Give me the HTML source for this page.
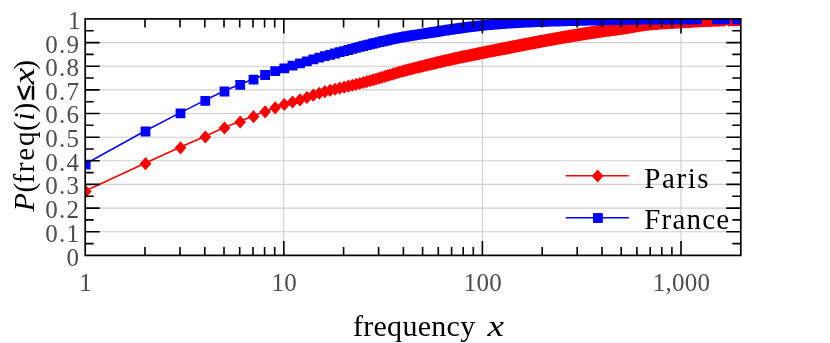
<!DOCTYPE html>
<html><head><meta charset="utf-8"><title>CDF of frequency</title>
<style>html,body{margin:0;padding:0;background:#fff;}body{width:830px;height:343px;overflow:hidden;position:relative;font-family:"Liberation Serif",serif;}</style>
</head><body>
<svg width="830" height="343" viewBox="0 0 830 343" style="position:absolute;left:0;top:0;will-change:transform;font-family:'Liberation Serif',serif">
<rect width="830" height="343" fill="#fff"/>
<defs><clipPath id="c"><rect x="85.2" y="18.9" width="655.6" height="236.5"/></clipPath></defs>
<path d="M283.8,18.9V255.4M482.4,18.9V255.4M681.0,18.9V255.4M85.2,231.8H740.8M85.2,208.1H740.8M85.2,184.4H740.8M85.2,160.8H740.8M85.2,137.2H740.8M85.2,113.5H740.8M85.2,89.9H740.8M85.2,66.2H740.8M85.2,42.6H740.8" stroke="#cfcfcf" stroke-width="1.1" fill="none"/>
<g clip-path="url(#c)"><g>
<path d="M85.2,191.1 L145.0,163.2 L180.0,147.3 L204.8,136.4 L224.0,127.6 L239.7,121.5 L253.0,116.1 L264.6,111.4 L274.7,107.4 L283.8,104.0 L292.0,101.6 L299.5,99.3 L306.4,96.9 L312.8,94.7 L318.8,92.8 L324.3,91.2 L329.6,89.8 L334.5,88.7 L339.2,87.7 L343.6,86.7 L347.8,85.7 L351.8,84.7 L355.6,83.8 L359.3,82.9 L362.8,82.0 L366.2,81.1 L369.5,80.2 L372.6,79.3 L375.6,78.5 L378.6,77.6 L381.4,76.8 L384.1,76.0 L386.8,75.2 L389.4,74.4 L391.9,73.7 L394.3,72.9 L396.6,72.2 L398.9,71.6 L401.2,70.9 L403.4,70.3 L405.5,69.8 L407.6,69.2 L409.6,68.7 L411.6,68.2 L413.5,67.7 L415.4,67.3 L417.3,66.8 L419.1,66.4 L420.9,65.9 L422.6,65.5 L424.3,65.1 L426.0,64.7 L427.6,64.3 L429.3,63.9 L430.8,63.5 L432.4,63.1 L433.9,62.7 L435.4,62.4 L436.9,62.0 L438.3,61.7 L439.8,61.4 L441.2,61.0 L442.5,60.7 L443.9,60.4 L445.2,60.1 L446.6,59.8 L447.9,59.5 L449.1,59.2 L450.4,58.9 L451.6,58.6 L452.9,58.4 L454.1,58.1 L455.3,57.8 L456.4,57.6 L457.6,57.3 L458.7,57.1 L459.9,56.9 L461.0,56.6 L462.1,56.4 L463.2,56.2 L464.2,55.9 L465.3,55.7 L466.3,55.5 L467.4,55.3 L468.4,55.1 L469.4,54.9 L470.4,54.7 L471.4,54.5 L472.3,54.3 L473.3,54.1 L474.3,53.9 L475.2,53.7 L476.1,53.5 L477.1,53.3 L478.0,53.1 L478.9,53.0 L479.8,52.8 L480.7,52.6 L481.5,52.4 L482.4,52.2 L483.3,52.1 L484.1,51.9 L484.9,51.7 L485.8,51.6 L486.6,51.4 L487.4,51.2 L488.2,51.1 L489.0,50.9 L489.8,50.8 L490.6,50.6 L491.4,50.4 L492.2,50.3 L492.9,50.1 L493.7,50.0 L494.5,49.8 L495.2,49.7 L495.9,49.5 L496.7,49.4 L497.4,49.3 L498.1,49.1 L498.8,49.0 L499.6,48.8 L500.3,48.7 L501.0,48.6 L501.6,48.4 L502.3,48.3 L503.0,48.2 L503.7,48.0 L504.4,47.9 L505.0,47.8 L505.7,47.6 L506.3,47.5 L507.0,47.4 L507.6,47.2 L508.3,47.1 L508.9,47.0 L509.6,46.9 L510.2,46.8 L510.8,46.6 L511.4,46.5 L512.0,46.4 L512.6,46.3 L513.2,46.2 L513.9,46.0 L514.4,45.9 L515.0,45.8 L515.6,45.7 L516.2,45.6 L516.8,45.5 L517.4,45.3 L517.9,45.2 L518.5,45.1 L519.1,45.0 L519.6,44.9 L520.2,44.8 L520.8,44.7 L521.3,44.6 L521.9,44.5 L522.4,44.4 L522.9,44.3 L523.5,44.2 L524.0,44.1 L524.5,43.9 L525.1,43.8 L525.6,43.7 L526.1,43.6 L526.6,43.5 L527.1,43.4 L527.7,43.3 L528.2,43.2 L528.7,43.1 L529.2,43.0 L529.7,42.9 L530.2,42.8 L530.7,42.7 L531.2,42.6 L531.6,42.6 L532.1,42.5 L532.6,42.4 L533.1,42.3 L533.6,42.2 L534.1,42.1 L534.5,42.0 L535.0,41.9 L535.5,41.8 L535.9,41.7 L536.4,41.6 L536.8,41.5 L537.3,41.5 L537.8,41.4 L538.2,41.3 L538.7,41.2 L539.1,41.1 L539.6,41.0 L540.0,40.9 L540.4,40.9 L540.9,40.8 L541.3,40.7 L541.8,40.6 L542.6,40.5 L543.5,40.3 L544.3,40.1 L545.2,40.0 L546.0,39.8 L546.8,39.7 L547.6,39.5 L548.4,39.4 L549.2,39.2 L550.0,39.1 L550.8,39.0 L551.6,38.8 L552.3,38.7 L553.1,38.5 L553.9,38.4 L554.6,38.3 L555.4,38.1 L556.1,38.0 L556.8,37.9 L557.5,37.8 L558.3,37.6 L559.0,37.5 L559.7,37.4 L560.4,37.3 L561.1,37.1 L561.8,37.0 L562.5,36.9 L563.1,36.8 L563.8,36.7 L564.5,36.5 L565.1,36.4 L565.8,36.3 L566.5,36.2 L567.1,36.1 L567.7,36.0 L568.4,35.9 L569.0,35.8 L569.7,35.7 L570.3,35.5 L570.9,35.4 L571.5,35.3 L572.1,35.2 L572.7,35.1 L573.3,35.0 L573.9,34.9 L574.5,34.8 L575.1,34.7 L575.7,34.6 L576.3,34.5 L576.9,34.4 L577.4,34.3 L578.0,34.2 L578.6,34.2 L579.1,34.1 L579.7,34.0 L580.3,33.9 L580.8,33.8 L581.4,33.7 L581.9,33.6 L582.5,33.5 L583.0,33.4 L583.5,33.3 L584.1,33.3 L584.6,33.2 L585.1,33.1 L585.6,33.0 L586.2,32.9 L586.7,32.8 L587.2,32.8 L587.7,32.7 L588.2,32.6 L588.7,32.5 L589.2,32.4 L589.7,32.4 L590.2,32.3 L590.7,32.2 L591.2,32.1 L591.7,32.0 L592.2,32.0 L592.6,31.9 L593.1,31.8 L593.6,31.7 L594.1,31.7 L594.5,31.6 L595.0,31.5 L595.5,31.5 L595.9,31.4 L596.4,31.3 L596.9,31.2 L597.3,31.2 L597.8,31.1 L598.2,31.0 L598.9,30.9 L599.6,30.8 L600.2,30.7 L600.9,30.6 L601.5,30.6 L602.2,30.5 L602.8,30.4 L603.5,30.3 L604.1,30.2 L604.7,30.1 L605.4,30.0 L606.0,29.9 L606.6,29.8 L607.2,29.8 L607.8,29.7 L608.4,29.6 L609.0,29.5 L609.6,29.4 L610.2,29.4 L610.8,29.3 L611.4,29.2 L611.9,29.1 L612.5,29.1 L613.1,29.0 L613.6,28.9 L614.2,28.8 L614.8,28.8 L615.3,28.7 L615.9,28.6 L616.4,28.5 L617.0,28.5 L617.5,28.4 L618.1,28.3 L618.6,28.3 L619.1,28.2 L619.6,28.1 L620.2,28.0 L620.7,28.0 L621.2,27.9 L621.7,27.8 L622.2,27.7 L622.8,27.7 L623.3,27.6 L623.8,27.5 L624.3,27.4 L624.8,27.3 L625.3,27.3 L625.8,27.2 L626.2,27.1 L626.7,27.0 L627.2,26.9 L627.7,26.9 L628.2,26.8 L628.6,26.7 L629.1,26.6 L629.6,26.5 L630.1,26.4 L630.5,26.4 L631.0,26.3 L631.5,26.2 L631.9,26.1 L632.4,26.0 L632.8,26.0 L633.3,25.9 L633.9,25.8 L634.5,25.7 L635.1,25.6 L635.6,25.5 L636.2,25.4 L636.8,25.3 L637.4,25.2 L637.9,25.1 L638.5,25.0 L639.1,24.9 L639.6,24.8 L640.2,24.7 L640.7,24.6 L641.3,24.5 L641.8,24.4 L642.4,24.4 L642.9,24.3 L643.4,24.2 L644.0,24.1 L644.5,24.1 L645.0,24.0 L645.6,23.9 L646.1,23.9 L646.6,23.8 L647.1,23.7 L647.6,23.7 L648.1,23.6 L648.6,23.6 L649.1,23.5 L649.6,23.5 L650.1,23.4 L650.6,23.4 L651.1,23.3 L651.6,23.3 L652.1,23.2 L652.5,23.2 L653.0,23.1 L653.5,23.1 L654.0,23.1 L654.4,23.0 L654.9,23.0 L655.4,23.0 L655.8,22.9 L656.3,22.9 L656.8,22.9 L657.2,22.8 L657.7,22.8 L658.1,22.8 L658.7,22.7 L659.2,22.7 L659.8,22.6 L660.3,22.6 L660.9,22.6 L661.4,22.5 L662.0,22.5 L662.5,22.5 L663.0,22.4 L663.6,22.4 L664.1,22.4 L664.6,22.3 L665.1,22.3 L665.7,22.3 L666.2,22.2 L666.7,22.2 L667.2,22.2 L667.7,22.1 L668.2,22.1 L668.7,22.1 L669.2,22.1 L669.7,22.0 L670.2,22.0 L670.7,22.0 L671.1,21.9 L671.6,21.9 L672.1,21.9 L672.6,21.9 L673.1,21.8 L673.5,21.8 L674.0,21.8 L674.5,21.8 L674.9,21.7 L675.4,21.7 L675.8,21.7 L676.3,21.7 L676.8,21.6 L677.2,21.6 L677.7,21.6 L678.3,21.5 L678.8,21.5 L679.3,21.5 L679.9,21.4 L680.4,21.4 L680.9,21.4 L681.4,21.4 L681.9,21.3 L682.5,21.3 L683.0,21.3 L683.5,21.2 L684.0,21.2 L684.5,21.2 L685.0,21.1 L685.5,21.1 L685.9,21.1 L686.4,21.1 L686.9,21.0 L687.4,21.0 L687.9,21.0 L688.4,20.9 L688.8,20.9 L689.3,20.9 L689.8,20.9 L690.2,20.8 L690.7,20.8 L691.2,20.8 L691.6,20.7 L692.1,20.7 L692.5,20.7 L693.0,20.7 L693.5,20.6 L694.0,20.6 L694.5,20.6 L695.1,20.5 L695.6,20.5 L696.1,20.5 L696.6,20.5 L697.1,20.4 L697.6,20.4 L698.1,20.4 L698.6,20.4 L699.1,20.3 L699.6,20.3 L700.0,20.3 L700.5,20.3 L701.0,20.2 L701.5,20.2 L702.0,20.2 L702.4,20.2 L702.9,20.1 L703.4,20.1 L703.8,20.1 L704.3,20.1 L704.7,20.1 L705.2,20.1 L705.7,20.0 L706.1,20.0 L706.6,20.0 L707.1,20.0 L707.6,20.0 L708.1,19.9 L708.6,19.9 L709.1,19.9 L709.6,19.9 L710.1,19.9 L710.6,19.9 L711.1,19.8 L711.5,19.8 L712.0,19.8 L712.5,19.8 L713.0,19.8 L713.5,19.8 L713.9,19.7 L714.4,19.7 L714.9,19.7 L715.3,19.7 L715.8,19.7 L716.3,19.7 L716.7,19.7 L717.2,19.6 L717.6,19.6 L718.1,19.6 L718.6,19.6 L719.1,19.6 L719.6,19.6 L720.1,19.6 L720.6,19.5 L721.1,19.5 L721.5,19.5 L722.0,19.5 L722.5,19.5 L723.0,19.5 L723.5,19.5 L723.9,19.5 L724.4,19.4 L727.8,19.4 L728.2,19.3 L728.7,19.3 L729.2,19.3 L729.7,19.3 L730.2,19.3 L730.7,19.3 L731.2,19.3 L731.6,19.3 L732.1,19.3 L732.6,19.3 L733.1,19.2 L733.5,19.2 L734.0,19.2 L734.5,19.2 L734.9,19.2 L735.4,19.2 L735.9,19.2 L736.3,19.2 L736.8,19.2 L737.2,19.2 L737.7,19.2 L738.2,19.2 L738.7,19.2 L739.2,19.2 L739.7,19.1 L740.1,19.1 L740.6,19.1" fill="none" stroke="#ff0000" stroke-width="1.6" stroke-linejoin="round"/>
<path d="M85.7,185.0l5.85,6.55l-5.85,6.55l-5.85,-6.55zM145.5,157.1l5.85,6.55l-5.85,6.55l-5.85,-6.55zM180.5,141.3l5.85,6.55l-5.85,6.55l-5.85,-6.55zM205.3,130.4l5.85,6.55l-5.85,6.55l-5.85,-6.55zM224.5,121.5l5.85,6.55l-5.85,6.55l-5.85,-6.55zM240.2,115.5l5.85,6.55l-5.85,6.55l-5.85,-6.55zM253.5,110.1l5.85,6.55l-5.85,6.55l-5.85,-6.55zM265.1,105.3l5.85,6.55l-5.85,6.55l-5.85,-6.55zM275.2,101.3l5.85,6.55l-5.85,6.55l-5.85,-6.55zM284.3,98.0l5.85,6.55l-5.85,6.55l-5.85,-6.55zM292.5,95.5l5.85,6.55l-5.85,6.55l-5.85,-6.55zM300.0,93.3l5.85,6.55l-5.85,6.55l-5.85,-6.55zM306.9,90.9l5.85,6.55l-5.85,6.55l-5.85,-6.55zM313.3,88.6l5.85,6.55l-5.85,6.55l-5.85,-6.55zM319.3,86.7l5.85,6.55l-5.85,6.55l-5.85,-6.55zM324.8,85.1l5.85,6.55l-5.85,6.55l-5.85,-6.55zM330.1,83.8l5.85,6.55l-5.85,6.55l-5.85,-6.55zM335.0,82.7l5.85,6.55l-5.85,6.55l-5.85,-6.55zM339.7,81.6l5.85,6.55l-5.85,6.55l-5.85,-6.55zM344.1,80.6l5.85,6.55l-5.85,6.55l-5.85,-6.55zM348.3,79.6l5.85,6.55l-5.85,6.55l-5.85,-6.55zM352.3,78.7l5.85,6.55l-5.85,6.55l-5.85,-6.55zM356.1,77.8l5.85,6.55l-5.85,6.55l-5.85,-6.55zM359.8,76.9l5.85,6.55l-5.85,6.55l-5.85,-6.55zM363.3,76.0l5.85,6.55l-5.85,6.55l-5.85,-6.55zM366.7,75.1l5.85,6.55l-5.85,6.55l-5.85,-6.55zM370.0,74.2l5.85,6.55l-5.85,6.55l-5.85,-6.55zM373.1,73.3l5.85,6.55l-5.85,6.55l-5.85,-6.55zM376.1,72.4l5.85,6.55l-5.85,6.55l-5.85,-6.55zM379.1,71.6l5.85,6.55l-5.85,6.55l-5.85,-6.55zM381.9,70.8l5.85,6.55l-5.85,6.55l-5.85,-6.55zM384.6,69.9l5.85,6.55l-5.85,6.55l-5.85,-6.55zM387.3,69.1l5.85,6.55l-5.85,6.55l-5.85,-6.55zM389.9,68.4l5.85,6.55l-5.85,6.55l-5.85,-6.55zM392.4,67.6l5.85,6.55l-5.85,6.55l-5.85,-6.55zM394.8,66.9l5.85,6.55l-5.85,6.55l-5.85,-6.55zM397.1,66.2l5.85,6.55l-5.85,6.55l-5.85,-6.55zM399.4,65.5l5.85,6.55l-5.85,6.55l-5.85,-6.55zM401.7,64.9l5.85,6.55l-5.85,6.55l-5.85,-6.55zM403.9,64.3l5.85,6.55l-5.85,6.55l-5.85,-6.55zM406.0,63.7l5.85,6.55l-5.85,6.55l-5.85,-6.55zM408.1,63.2l5.85,6.55l-5.85,6.55l-5.85,-6.55zM410.1,62.7l5.85,6.55l-5.85,6.55l-5.85,-6.55zM412.1,62.2l5.85,6.55l-5.85,6.55l-5.85,-6.55zM414.0,61.7l5.85,6.55l-5.85,6.55l-5.85,-6.55zM415.9,61.2l5.85,6.55l-5.85,6.55l-5.85,-6.55zM417.8,60.7l5.85,6.55l-5.85,6.55l-5.85,-6.55zM419.6,60.3l5.85,6.55l-5.85,6.55l-5.85,-6.55zM421.4,59.9l5.85,6.55l-5.85,6.55l-5.85,-6.55zM423.1,59.4l5.85,6.55l-5.85,6.55l-5.85,-6.55zM424.8,59.0l5.85,6.55l-5.85,6.55l-5.85,-6.55zM426.5,58.6l5.85,6.55l-5.85,6.55l-5.85,-6.55zM428.1,58.2l5.85,6.55l-5.85,6.55l-5.85,-6.55zM429.8,57.8l5.85,6.55l-5.85,6.55l-5.85,-6.55zM431.3,57.4l5.85,6.55l-5.85,6.55l-5.85,-6.55zM432.9,57.1l5.85,6.55l-5.85,6.55l-5.85,-6.55zM434.4,56.7l5.85,6.55l-5.85,6.55l-5.85,-6.55zM435.9,56.3l5.85,6.55l-5.85,6.55l-5.85,-6.55zM437.4,56.0l5.85,6.55l-5.85,6.55l-5.85,-6.55zM438.8,55.6l5.85,6.55l-5.85,6.55l-5.85,-6.55zM440.3,55.3l5.85,6.55l-5.85,6.55l-5.85,-6.55zM441.7,55.0l5.85,6.55l-5.85,6.55l-5.85,-6.55zM443.0,54.6l5.85,6.55l-5.85,6.55l-5.85,-6.55zM444.4,54.3l5.85,6.55l-5.85,6.55l-5.85,-6.55zM445.7,54.0l5.85,6.55l-5.85,6.55l-5.85,-6.55zM447.1,53.7l5.85,6.55l-5.85,6.55l-5.85,-6.55zM448.4,53.4l5.85,6.55l-5.85,6.55l-5.85,-6.55zM449.6,53.1l5.85,6.55l-5.85,6.55l-5.85,-6.55zM450.9,52.9l5.85,6.55l-5.85,6.55l-5.85,-6.55zM452.1,52.6l5.85,6.55l-5.85,6.55l-5.85,-6.55zM453.4,52.3l5.85,6.55l-5.85,6.55l-5.85,-6.55zM454.6,52.0l5.85,6.55l-5.85,6.55l-5.85,-6.55zM455.8,51.8l5.85,6.55l-5.85,6.55l-5.85,-6.55zM456.9,51.5l5.85,6.55l-5.85,6.55l-5.85,-6.55zM458.1,51.3l5.85,6.55l-5.85,6.55l-5.85,-6.55zM459.2,51.0l5.85,6.55l-5.85,6.55l-5.85,-6.55zM460.4,50.8l5.85,6.55l-5.85,6.55l-5.85,-6.55zM461.5,50.6l5.85,6.55l-5.85,6.55l-5.85,-6.55zM462.6,50.3l5.85,6.55l-5.85,6.55l-5.85,-6.55zM463.7,50.1l5.85,6.55l-5.85,6.55l-5.85,-6.55zM464.7,49.9l5.85,6.55l-5.85,6.55l-5.85,-6.55zM465.8,49.7l5.85,6.55l-5.85,6.55l-5.85,-6.55zM466.8,49.5l5.85,6.55l-5.85,6.55l-5.85,-6.55zM467.9,49.2l5.85,6.55l-5.85,6.55l-5.85,-6.55zM468.9,49.0l5.85,6.55l-5.85,6.55l-5.85,-6.55zM469.9,48.8l5.85,6.55l-5.85,6.55l-5.85,-6.55zM470.9,48.6l5.85,6.55l-5.85,6.55l-5.85,-6.55zM471.9,48.4l5.85,6.55l-5.85,6.55l-5.85,-6.55zM472.8,48.2l5.85,6.55l-5.85,6.55l-5.85,-6.55zM473.8,48.0l5.85,6.55l-5.85,6.55l-5.85,-6.55zM474.8,47.8l5.85,6.55l-5.85,6.55l-5.85,-6.55zM475.7,47.6l5.85,6.55l-5.85,6.55l-5.85,-6.55zM476.6,47.5l5.85,6.55l-5.85,6.55l-5.85,-6.55zM477.6,47.3l5.85,6.55l-5.85,6.55l-5.85,-6.55zM478.5,47.1l5.85,6.55l-5.85,6.55l-5.85,-6.55zM479.4,46.9l5.85,6.55l-5.85,6.55l-5.85,-6.55zM480.3,46.7l5.85,6.55l-5.85,6.55l-5.85,-6.55zM481.2,46.5l5.85,6.55l-5.85,6.55l-5.85,-6.55zM482.0,46.4l5.85,6.55l-5.85,6.55l-5.85,-6.55zM482.9,46.2l5.85,6.55l-5.85,6.55l-5.85,-6.55zM483.8,46.0l5.85,6.55l-5.85,6.55l-5.85,-6.55zM484.6,45.9l5.85,6.55l-5.85,6.55l-5.85,-6.55zM485.4,45.7l5.85,6.55l-5.85,6.55l-5.85,-6.55zM486.3,45.5l5.85,6.55l-5.85,6.55l-5.85,-6.55zM487.1,45.3l5.85,6.55l-5.85,6.55l-5.85,-6.55zM487.9,45.2l5.85,6.55l-5.85,6.55l-5.85,-6.55zM488.7,45.0l5.85,6.55l-5.85,6.55l-5.85,-6.55zM489.5,44.9l5.85,6.55l-5.85,6.55l-5.85,-6.55zM490.3,44.7l5.85,6.55l-5.85,6.55l-5.85,-6.55zM491.1,44.5l5.85,6.55l-5.85,6.55l-5.85,-6.55zM491.9,44.4l5.85,6.55l-5.85,6.55l-5.85,-6.55zM492.7,44.2l5.85,6.55l-5.85,6.55l-5.85,-6.55zM493.4,44.1l5.85,6.55l-5.85,6.55l-5.85,-6.55zM494.2,43.9l5.85,6.55l-5.85,6.55l-5.85,-6.55zM495.0,43.8l5.85,6.55l-5.85,6.55l-5.85,-6.55zM495.7,43.6l5.85,6.55l-5.85,6.55l-5.85,-6.55zM496.4,43.5l5.85,6.55l-5.85,6.55l-5.85,-6.55zM497.2,43.3l5.85,6.55l-5.85,6.55l-5.85,-6.55zM497.9,43.2l5.85,6.55l-5.85,6.55l-5.85,-6.55zM498.6,43.1l5.85,6.55l-5.85,6.55l-5.85,-6.55zM499.3,42.9l5.85,6.55l-5.85,6.55l-5.85,-6.55zM500.1,42.8l5.85,6.55l-5.85,6.55l-5.85,-6.55zM500.8,42.6l5.85,6.55l-5.85,6.55l-5.85,-6.55zM501.5,42.5l5.85,6.55l-5.85,6.55l-5.85,-6.55zM502.1,42.4l5.85,6.55l-5.85,6.55l-5.85,-6.55zM502.8,42.2l5.85,6.55l-5.85,6.55l-5.85,-6.55zM503.5,42.1l5.85,6.55l-5.85,6.55l-5.85,-6.55zM504.2,42.0l5.85,6.55l-5.85,6.55l-5.85,-6.55zM504.9,41.8l5.85,6.55l-5.85,6.55l-5.85,-6.55zM505.5,41.7l5.85,6.55l-5.85,6.55l-5.85,-6.55zM506.2,41.6l5.85,6.55l-5.85,6.55l-5.85,-6.55zM506.8,41.4l5.85,6.55l-5.85,6.55l-5.85,-6.55zM507.5,41.3l5.85,6.55l-5.85,6.55l-5.85,-6.55zM508.1,41.2l5.85,6.55l-5.85,6.55l-5.85,-6.55zM508.8,41.1l5.85,6.55l-5.85,6.55l-5.85,-6.55zM509.4,40.9l5.85,6.55l-5.85,6.55l-5.85,-6.55zM510.1,40.8l5.85,6.55l-5.85,6.55l-5.85,-6.55zM510.7,40.7l5.85,6.55l-5.85,6.55l-5.85,-6.55zM511.3,40.6l5.85,6.55l-5.85,6.55l-5.85,-6.55zM511.9,40.5l5.85,6.55l-5.85,6.55l-5.85,-6.55zM512.5,40.3l5.85,6.55l-5.85,6.55l-5.85,-6.55zM513.1,40.2l5.85,6.55l-5.85,6.55l-5.85,-6.55zM513.7,40.1l5.85,6.55l-5.85,6.55l-5.85,-6.55zM514.4,40.0l5.85,6.55l-5.85,6.55l-5.85,-6.55zM514.9,39.9l5.85,6.55l-5.85,6.55l-5.85,-6.55zM515.5,39.8l5.85,6.55l-5.85,6.55l-5.85,-6.55zM516.1,39.6l5.85,6.55l-5.85,6.55l-5.85,-6.55zM516.7,39.5l5.85,6.55l-5.85,6.55l-5.85,-6.55zM517.3,39.4l5.85,6.55l-5.85,6.55l-5.85,-6.55zM517.9,39.3l5.85,6.55l-5.85,6.55l-5.85,-6.55zM518.4,39.2l5.85,6.55l-5.85,6.55l-5.85,-6.55zM519.0,39.1l5.85,6.55l-5.85,6.55l-5.85,-6.55zM519.6,39.0l5.85,6.55l-5.85,6.55l-5.85,-6.55zM520.1,38.9l5.85,6.55l-5.85,6.55l-5.85,-6.55zM520.7,38.7l5.85,6.55l-5.85,6.55l-5.85,-6.55zM521.3,38.6l5.85,6.55l-5.85,6.55l-5.85,-6.55zM521.8,38.5l5.85,6.55l-5.85,6.55l-5.85,-6.55zM522.4,38.4l5.85,6.55l-5.85,6.55l-5.85,-6.55zM522.9,38.3l5.85,6.55l-5.85,6.55l-5.85,-6.55zM523.4,38.2l5.85,6.55l-5.85,6.55l-5.85,-6.55zM524.0,38.1l5.85,6.55l-5.85,6.55l-5.85,-6.55zM524.5,38.0l5.85,6.55l-5.85,6.55l-5.85,-6.55zM525.0,37.9l5.85,6.55l-5.85,6.55l-5.85,-6.55zM525.6,37.8l5.85,6.55l-5.85,6.55l-5.85,-6.55zM526.1,37.7l5.85,6.55l-5.85,6.55l-5.85,-6.55zM526.6,37.6l5.85,6.55l-5.85,6.55l-5.85,-6.55zM527.1,37.5l5.85,6.55l-5.85,6.55l-5.85,-6.55zM527.6,37.4l5.85,6.55l-5.85,6.55l-5.85,-6.55zM528.2,37.3l5.85,6.55l-5.85,6.55l-5.85,-6.55zM528.7,37.2l5.85,6.55l-5.85,6.55l-5.85,-6.55zM529.2,37.1l5.85,6.55l-5.85,6.55l-5.85,-6.55zM529.7,37.0l5.85,6.55l-5.85,6.55l-5.85,-6.55zM530.2,36.9l5.85,6.55l-5.85,6.55l-5.85,-6.55zM530.7,36.8l5.85,6.55l-5.85,6.55l-5.85,-6.55zM531.2,36.7l5.85,6.55l-5.85,6.55l-5.85,-6.55zM531.7,36.6l5.85,6.55l-5.85,6.55l-5.85,-6.55zM532.1,36.5l5.85,6.55l-5.85,6.55l-5.85,-6.55zM532.6,36.4l5.85,6.55l-5.85,6.55l-5.85,-6.55zM533.1,36.3l5.85,6.55l-5.85,6.55l-5.85,-6.55zM533.6,36.2l5.85,6.55l-5.85,6.55l-5.85,-6.55zM534.1,36.1l5.85,6.55l-5.85,6.55l-5.85,-6.55zM534.6,36.0l5.85,6.55l-5.85,6.55l-5.85,-6.55zM535.0,35.9l5.85,6.55l-5.85,6.55l-5.85,-6.55zM535.5,35.9l5.85,6.55l-5.85,6.55l-5.85,-6.55zM536.0,35.8l5.85,6.55l-5.85,6.55l-5.85,-6.55zM536.4,35.7l5.85,6.55l-5.85,6.55l-5.85,-6.55zM536.9,35.6l5.85,6.55l-5.85,6.55l-5.85,-6.55zM537.3,35.5l5.85,6.55l-5.85,6.55l-5.85,-6.55zM537.8,35.4l5.85,6.55l-5.85,6.55l-5.85,-6.55zM538.3,35.3l5.85,6.55l-5.85,6.55l-5.85,-6.55zM538.7,35.2l5.85,6.55l-5.85,6.55l-5.85,-6.55zM539.2,35.1l5.85,6.55l-5.85,6.55l-5.85,-6.55zM539.6,35.1l5.85,6.55l-5.85,6.55l-5.85,-6.55zM540.1,35.0l5.85,6.55l-5.85,6.55l-5.85,-6.55zM540.5,34.9l5.85,6.55l-5.85,6.55l-5.85,-6.55zM540.9,34.8l5.85,6.55l-5.85,6.55l-5.85,-6.55zM541.4,34.7l5.85,6.55l-5.85,6.55l-5.85,-6.55zM541.8,34.7l5.85,6.55l-5.85,6.55l-5.85,-6.55zM542.3,34.6l5.85,6.55l-5.85,6.55l-5.85,-6.55zM543.1,34.4l5.85,6.55l-5.85,6.55l-5.85,-6.55zM544.0,34.3l5.85,6.55l-5.85,6.55l-5.85,-6.55zM544.8,34.1l5.85,6.55l-5.85,6.55l-5.85,-6.55zM545.7,33.9l5.85,6.55l-5.85,6.55l-5.85,-6.55zM546.5,33.8l5.85,6.55l-5.85,6.55l-5.85,-6.55zM547.3,33.6l5.85,6.55l-5.85,6.55l-5.85,-6.55zM548.1,33.5l5.85,6.55l-5.85,6.55l-5.85,-6.55zM548.9,33.3l5.85,6.55l-5.85,6.55l-5.85,-6.55zM549.7,33.2l5.85,6.55l-5.85,6.55l-5.85,-6.55zM550.5,33.1l5.85,6.55l-5.85,6.55l-5.85,-6.55zM551.3,32.9l5.85,6.55l-5.85,6.55l-5.85,-6.55zM552.1,32.8l5.85,6.55l-5.85,6.55l-5.85,-6.55zM552.8,32.6l5.85,6.55l-5.85,6.55l-5.85,-6.55zM553.6,32.5l5.85,6.55l-5.85,6.55l-5.85,-6.55zM554.4,32.4l5.85,6.55l-5.85,6.55l-5.85,-6.55zM555.1,32.2l5.85,6.55l-5.85,6.55l-5.85,-6.55zM555.9,32.1l5.85,6.55l-5.85,6.55l-5.85,-6.55zM556.6,32.0l5.85,6.55l-5.85,6.55l-5.85,-6.55zM557.3,31.8l5.85,6.55l-5.85,6.55l-5.85,-6.55zM558.0,31.7l5.85,6.55l-5.85,6.55l-5.85,-6.55zM558.8,31.6l5.85,6.55l-5.85,6.55l-5.85,-6.55zM559.5,31.5l5.85,6.55l-5.85,6.55l-5.85,-6.55zM560.2,31.3l5.85,6.55l-5.85,6.55l-5.85,-6.55zM560.9,31.2l5.85,6.55l-5.85,6.55l-5.85,-6.55zM561.6,31.1l5.85,6.55l-5.85,6.55l-5.85,-6.55zM562.3,31.0l5.85,6.55l-5.85,6.55l-5.85,-6.55zM563.0,30.8l5.85,6.55l-5.85,6.55l-5.85,-6.55zM563.6,30.7l5.85,6.55l-5.85,6.55l-5.85,-6.55zM564.3,30.6l5.85,6.55l-5.85,6.55l-5.85,-6.55zM565.0,30.5l5.85,6.55l-5.85,6.55l-5.85,-6.55zM565.6,30.4l5.85,6.55l-5.85,6.55l-5.85,-6.55zM566.3,30.3l5.85,6.55l-5.85,6.55l-5.85,-6.55zM567.0,30.1l5.85,6.55l-5.85,6.55l-5.85,-6.55zM567.6,30.0l5.85,6.55l-5.85,6.55l-5.85,-6.55zM568.2,29.9l5.85,6.55l-5.85,6.55l-5.85,-6.55zM568.9,29.8l5.85,6.55l-5.85,6.55l-5.85,-6.55zM569.5,29.7l5.85,6.55l-5.85,6.55l-5.85,-6.55zM570.2,29.6l5.85,6.55l-5.85,6.55l-5.85,-6.55zM570.8,29.5l5.85,6.55l-5.85,6.55l-5.85,-6.55zM571.4,29.4l5.85,6.55l-5.85,6.55l-5.85,-6.55zM572.0,29.3l5.85,6.55l-5.85,6.55l-5.85,-6.55zM572.6,29.2l5.85,6.55l-5.85,6.55l-5.85,-6.55zM573.2,29.1l5.85,6.55l-5.85,6.55l-5.85,-6.55zM573.8,29.0l5.85,6.55l-5.85,6.55l-5.85,-6.55zM574.4,28.9l5.85,6.55l-5.85,6.55l-5.85,-6.55zM575.0,28.8l5.85,6.55l-5.85,6.55l-5.85,-6.55zM575.6,28.7l5.85,6.55l-5.85,6.55l-5.85,-6.55zM576.2,28.6l5.85,6.55l-5.85,6.55l-5.85,-6.55zM576.8,28.5l5.85,6.55l-5.85,6.55l-5.85,-6.55zM577.4,28.4l5.85,6.55l-5.85,6.55l-5.85,-6.55zM577.9,28.3l5.85,6.55l-5.85,6.55l-5.85,-6.55zM578.5,28.2l5.85,6.55l-5.85,6.55l-5.85,-6.55zM579.1,28.1l5.85,6.55l-5.85,6.55l-5.85,-6.55zM579.6,28.0l5.85,6.55l-5.85,6.55l-5.85,-6.55zM580.2,27.9l5.85,6.55l-5.85,6.55l-5.85,-6.55zM580.8,27.8l5.85,6.55l-5.85,6.55l-5.85,-6.55zM581.3,27.7l5.85,6.55l-5.85,6.55l-5.85,-6.55zM581.9,27.6l5.85,6.55l-5.85,6.55l-5.85,-6.55zM582.4,27.6l5.85,6.55l-5.85,6.55l-5.85,-6.55zM583.0,27.5l5.85,6.55l-5.85,6.55l-5.85,-6.55zM583.5,27.4l5.85,6.55l-5.85,6.55l-5.85,-6.55zM584.0,27.3l5.85,6.55l-5.85,6.55l-5.85,-6.55zM584.6,27.2l5.85,6.55l-5.85,6.55l-5.85,-6.55zM585.1,27.1l5.85,6.55l-5.85,6.55l-5.85,-6.55zM585.6,27.0l5.85,6.55l-5.85,6.55l-5.85,-6.55zM586.1,27.0l5.85,6.55l-5.85,6.55l-5.85,-6.55zM586.7,26.9l5.85,6.55l-5.85,6.55l-5.85,-6.55zM587.2,26.8l5.85,6.55l-5.85,6.55l-5.85,-6.55zM587.7,26.7l5.85,6.55l-5.85,6.55l-5.85,-6.55zM588.2,26.6l5.85,6.55l-5.85,6.55l-5.85,-6.55zM588.7,26.5l5.85,6.55l-5.85,6.55l-5.85,-6.55zM589.2,26.5l5.85,6.55l-5.85,6.55l-5.85,-6.55zM589.7,26.4l5.85,6.55l-5.85,6.55l-5.85,-6.55zM590.2,26.3l5.85,6.55l-5.85,6.55l-5.85,-6.55zM590.7,26.2l5.85,6.55l-5.85,6.55l-5.85,-6.55zM591.2,26.1l5.85,6.55l-5.85,6.55l-5.85,-6.55zM591.7,26.1l5.85,6.55l-5.85,6.55l-5.85,-6.55zM592.2,26.0l5.85,6.55l-5.85,6.55l-5.85,-6.55zM592.7,25.9l5.85,6.55l-5.85,6.55l-5.85,-6.55zM593.1,25.8l5.85,6.55l-5.85,6.55l-5.85,-6.55zM593.6,25.8l5.85,6.55l-5.85,6.55l-5.85,-6.55zM594.1,25.7l5.85,6.55l-5.85,6.55l-5.85,-6.55zM594.6,25.6l5.85,6.55l-5.85,6.55l-5.85,-6.55zM595.0,25.5l5.85,6.55l-5.85,6.55l-5.85,-6.55zM595.5,25.5l5.85,6.55l-5.85,6.55l-5.85,-6.55zM596.0,25.4l5.85,6.55l-5.85,6.55l-5.85,-6.55zM596.4,25.3l5.85,6.55l-5.85,6.55l-5.85,-6.55zM596.9,25.3l5.85,6.55l-5.85,6.55l-5.85,-6.55zM597.4,25.2l5.85,6.55l-5.85,6.55l-5.85,-6.55zM597.8,25.1l5.85,6.55l-5.85,6.55l-5.85,-6.55zM598.3,25.1l5.85,6.55l-5.85,6.55l-5.85,-6.55zM598.7,25.0l5.85,6.55l-5.85,6.55l-5.85,-6.55zM599.4,24.9l5.85,6.55l-5.85,6.55l-5.85,-6.55zM600.1,24.8l5.85,6.55l-5.85,6.55l-5.85,-6.55zM600.7,24.7l5.85,6.55l-5.85,6.55l-5.85,-6.55zM601.4,24.6l5.85,6.55l-5.85,6.55l-5.85,-6.55zM602.0,24.5l5.85,6.55l-5.85,6.55l-5.85,-6.55zM602.7,24.4l5.85,6.55l-5.85,6.55l-5.85,-6.55zM603.3,24.3l5.85,6.55l-5.85,6.55l-5.85,-6.55zM604.0,24.2l5.85,6.55l-5.85,6.55l-5.85,-6.55zM604.6,24.1l5.85,6.55l-5.85,6.55l-5.85,-6.55zM605.2,24.0l5.85,6.55l-5.85,6.55l-5.85,-6.55zM605.9,24.0l5.85,6.55l-5.85,6.55l-5.85,-6.55zM606.5,23.9l5.85,6.55l-5.85,6.55l-5.85,-6.55zM607.1,23.8l5.85,6.55l-5.85,6.55l-5.85,-6.55zM607.7,23.7l5.85,6.55l-5.85,6.55l-5.85,-6.55zM608.3,23.6l5.85,6.55l-5.85,6.55l-5.85,-6.55zM608.9,23.6l5.85,6.55l-5.85,6.55l-5.85,-6.55zM609.5,23.5l5.85,6.55l-5.85,6.55l-5.85,-6.55zM610.1,23.4l5.85,6.55l-5.85,6.55l-5.85,-6.55zM610.7,23.3l5.85,6.55l-5.85,6.55l-5.85,-6.55zM611.3,23.2l5.85,6.55l-5.85,6.55l-5.85,-6.55zM611.9,23.2l5.85,6.55l-5.85,6.55l-5.85,-6.55zM612.4,23.1l5.85,6.55l-5.85,6.55l-5.85,-6.55zM613.0,23.0l5.85,6.55l-5.85,6.55l-5.85,-6.55zM613.6,22.9l5.85,6.55l-5.85,6.55l-5.85,-6.55zM614.1,22.9l5.85,6.55l-5.85,6.55l-5.85,-6.55zM614.7,22.8l5.85,6.55l-5.85,6.55l-5.85,-6.55zM615.3,22.7l5.85,6.55l-5.85,6.55l-5.85,-6.55zM615.8,22.6l5.85,6.55l-5.85,6.55l-5.85,-6.55zM616.4,22.6l5.85,6.55l-5.85,6.55l-5.85,-6.55zM616.9,22.5l5.85,6.55l-5.85,6.55l-5.85,-6.55zM617.5,22.4l5.85,6.55l-5.85,6.55l-5.85,-6.55zM618.0,22.4l5.85,6.55l-5.85,6.55l-5.85,-6.55zM618.6,22.3l5.85,6.55l-5.85,6.55l-5.85,-6.55zM619.1,22.2l5.85,6.55l-5.85,6.55l-5.85,-6.55zM619.6,22.1l5.85,6.55l-5.85,6.55l-5.85,-6.55zM620.1,22.1l5.85,6.55l-5.85,6.55l-5.85,-6.55zM620.7,22.0l5.85,6.55l-5.85,6.55l-5.85,-6.55zM621.2,21.9l5.85,6.55l-5.85,6.55l-5.85,-6.55zM621.7,21.8l5.85,6.55l-5.85,6.55l-5.85,-6.55zM622.2,21.8l5.85,6.55l-5.85,6.55l-5.85,-6.55zM622.7,21.7l5.85,6.55l-5.85,6.55l-5.85,-6.55zM623.3,21.6l5.85,6.55l-5.85,6.55l-5.85,-6.55zM623.8,21.5l5.85,6.55l-5.85,6.55l-5.85,-6.55zM624.3,21.5l5.85,6.55l-5.85,6.55l-5.85,-6.55zM624.8,21.4l5.85,6.55l-5.85,6.55l-5.85,-6.55zM625.3,21.3l5.85,6.55l-5.85,6.55l-5.85,-6.55zM625.8,21.2l5.85,6.55l-5.85,6.55l-5.85,-6.55zM626.3,21.1l5.85,6.55l-5.85,6.55l-5.85,-6.55zM626.7,21.1l5.85,6.55l-5.85,6.55l-5.85,-6.55zM627.2,21.0l5.85,6.55l-5.85,6.55l-5.85,-6.55zM627.7,20.9l5.85,6.55l-5.85,6.55l-5.85,-6.55zM628.2,20.8l5.85,6.55l-5.85,6.55l-5.85,-6.55zM628.7,20.7l5.85,6.55l-5.85,6.55l-5.85,-6.55zM629.1,20.6l5.85,6.55l-5.85,6.55l-5.85,-6.55zM629.6,20.6l5.85,6.55l-5.85,6.55l-5.85,-6.55zM630.1,20.5l5.85,6.55l-5.85,6.55l-5.85,-6.55zM630.6,20.4l5.85,6.55l-5.85,6.55l-5.85,-6.55zM631.0,20.3l5.85,6.55l-5.85,6.55l-5.85,-6.55zM631.5,20.2l5.85,6.55l-5.85,6.55l-5.85,-6.55zM632.0,20.2l5.85,6.55l-5.85,6.55l-5.85,-6.55zM632.4,20.1l5.85,6.55l-5.85,6.55l-5.85,-6.55zM632.9,20.0l5.85,6.55l-5.85,6.55l-5.85,-6.55zM633.3,19.9l5.85,6.55l-5.85,6.55l-5.85,-6.55zM633.8,19.8l5.85,6.55l-5.85,6.55l-5.85,-6.55zM634.4,19.7l5.85,6.55l-5.85,6.55l-5.85,-6.55zM635.0,19.6l5.85,6.55l-5.85,6.55l-5.85,-6.55zM635.6,19.5l5.85,6.55l-5.85,6.55l-5.85,-6.55zM636.1,19.4l5.85,6.55l-5.85,6.55l-5.85,-6.55zM636.7,19.3l5.85,6.55l-5.85,6.55l-5.85,-6.55zM637.3,19.2l5.85,6.55l-5.85,6.55l-5.85,-6.55zM637.9,19.1l5.85,6.55l-5.85,6.55l-5.85,-6.55zM638.4,19.0l5.85,6.55l-5.85,6.55l-5.85,-6.55zM639.0,18.9l5.85,6.55l-5.85,6.55l-5.85,-6.55zM639.6,18.8l5.85,6.55l-5.85,6.55l-5.85,-6.55zM640.1,18.7l5.85,6.55l-5.85,6.55l-5.85,-6.55zM640.7,18.7l5.85,6.55l-5.85,6.55l-5.85,-6.55zM641.2,18.6l5.85,6.55l-5.85,6.55l-5.85,-6.55zM641.8,18.5l5.85,6.55l-5.85,6.55l-5.85,-6.55zM642.3,18.4l5.85,6.55l-5.85,6.55l-5.85,-6.55zM642.9,18.3l5.85,6.55l-5.85,6.55l-5.85,-6.55zM643.4,18.2l5.85,6.55l-5.85,6.55l-5.85,-6.55zM643.9,18.2l5.85,6.55l-5.85,6.55l-5.85,-6.55zM644.5,18.1l5.85,6.55l-5.85,6.55l-5.85,-6.55zM645.0,18.0l5.85,6.55l-5.85,6.55l-5.85,-6.55zM645.5,17.9l5.85,6.55l-5.85,6.55l-5.85,-6.55zM646.1,17.9l5.85,6.55l-5.85,6.55l-5.85,-6.55zM646.6,17.8l5.85,6.55l-5.85,6.55l-5.85,-6.55zM647.1,17.7l5.85,6.55l-5.85,6.55l-5.85,-6.55zM647.6,17.7l5.85,6.55l-5.85,6.55l-5.85,-6.55zM648.1,17.6l5.85,6.55l-5.85,6.55l-5.85,-6.55zM648.6,17.6l5.85,6.55l-5.85,6.55l-5.85,-6.55zM649.1,17.5l5.85,6.55l-5.85,6.55l-5.85,-6.55zM649.6,17.5l5.85,6.55l-5.85,6.55l-5.85,-6.55zM650.1,17.4l5.85,6.55l-5.85,6.55l-5.85,-6.55zM650.6,17.4l5.85,6.55l-5.85,6.55l-5.85,-6.55zM651.1,17.3l5.85,6.55l-5.85,6.55l-5.85,-6.55zM651.6,17.3l5.85,6.55l-5.85,6.55l-5.85,-6.55zM652.1,17.2l5.85,6.55l-5.85,6.55l-5.85,-6.55zM652.6,17.2l5.85,6.55l-5.85,6.55l-5.85,-6.55zM653.0,17.1l5.85,6.55l-5.85,6.55l-5.85,-6.55zM653.5,17.1l5.85,6.55l-5.85,6.55l-5.85,-6.55zM654.0,17.1l5.85,6.55l-5.85,6.55l-5.85,-6.55zM654.5,17.0l5.85,6.55l-5.85,6.55l-5.85,-6.55zM654.9,17.0l5.85,6.55l-5.85,6.55l-5.85,-6.55zM655.4,16.9l5.85,6.55l-5.85,6.55l-5.85,-6.55zM655.9,16.9l5.85,6.55l-5.85,6.55l-5.85,-6.55zM656.3,16.9l5.85,6.55l-5.85,6.55l-5.85,-6.55zM656.8,16.8l5.85,6.55l-5.85,6.55l-5.85,-6.55zM657.3,16.8l5.85,6.55l-5.85,6.55l-5.85,-6.55zM657.7,16.8l5.85,6.55l-5.85,6.55l-5.85,-6.55zM658.2,16.7l5.85,6.55l-5.85,6.55l-5.85,-6.55zM658.6,16.7l5.85,6.55l-5.85,6.55l-5.85,-6.55zM659.2,16.7l5.85,6.55l-5.85,6.55l-5.85,-6.55zM659.7,16.6l5.85,6.55l-5.85,6.55l-5.85,-6.55zM660.3,16.6l5.85,6.55l-5.85,6.55l-5.85,-6.55zM660.8,16.5l5.85,6.55l-5.85,6.55l-5.85,-6.55zM661.4,16.5l5.85,6.55l-5.85,6.55l-5.85,-6.55zM661.9,16.5l5.85,6.55l-5.85,6.55l-5.85,-6.55zM662.5,16.4l5.85,6.55l-5.85,6.55l-5.85,-6.55zM663.0,16.4l5.85,6.55l-5.85,6.55l-5.85,-6.55zM663.5,16.4l5.85,6.55l-5.85,6.55l-5.85,-6.55zM664.1,16.3l5.85,6.55l-5.85,6.55l-5.85,-6.55zM664.6,16.3l5.85,6.55l-5.85,6.55l-5.85,-6.55zM665.1,16.3l5.85,6.55l-5.85,6.55l-5.85,-6.55zM665.6,16.2l5.85,6.55l-5.85,6.55l-5.85,-6.55zM666.2,16.2l5.85,6.55l-5.85,6.55l-5.85,-6.55zM666.7,16.2l5.85,6.55l-5.85,6.55l-5.85,-6.55zM667.2,16.1l5.85,6.55l-5.85,6.55l-5.85,-6.55zM667.7,16.1l5.85,6.55l-5.85,6.55l-5.85,-6.55zM668.2,16.1l5.85,6.55l-5.85,6.55l-5.85,-6.55zM668.7,16.1l5.85,6.55l-5.85,6.55l-5.85,-6.55zM669.2,16.0l5.85,6.55l-5.85,6.55l-5.85,-6.55zM669.7,16.0l5.85,6.55l-5.85,6.55l-5.85,-6.55zM670.2,16.0l5.85,6.55l-5.85,6.55l-5.85,-6.55zM670.7,15.9l5.85,6.55l-5.85,6.55l-5.85,-6.55zM671.2,15.9l5.85,6.55l-5.85,6.55l-5.85,-6.55zM671.6,15.9l5.85,6.55l-5.85,6.55l-5.85,-6.55zM672.1,15.9l5.85,6.55l-5.85,6.55l-5.85,-6.55zM672.6,15.8l5.85,6.55l-5.85,6.55l-5.85,-6.55zM673.1,15.8l5.85,6.55l-5.85,6.55l-5.85,-6.55zM673.6,15.8l5.85,6.55l-5.85,6.55l-5.85,-6.55zM674.0,15.8l5.85,6.55l-5.85,6.55l-5.85,-6.55zM674.5,15.7l5.85,6.55l-5.85,6.55l-5.85,-6.55zM675.0,15.7l5.85,6.55l-5.85,6.55l-5.85,-6.55zM675.4,15.7l5.85,6.55l-5.85,6.55l-5.85,-6.55zM675.9,15.7l5.85,6.55l-5.85,6.55l-5.85,-6.55zM676.3,15.6l5.85,6.55l-5.85,6.55l-5.85,-6.55zM676.8,15.6l5.85,6.55l-5.85,6.55l-5.85,-6.55zM677.3,15.6l5.85,6.55l-5.85,6.55l-5.85,-6.55zM677.7,15.6l5.85,6.55l-5.85,6.55l-5.85,-6.55zM678.2,15.5l5.85,6.55l-5.85,6.55l-5.85,-6.55zM678.8,15.5l5.85,6.55l-5.85,6.55l-5.85,-6.55zM679.3,15.5l5.85,6.55l-5.85,6.55l-5.85,-6.55zM679.8,15.4l5.85,6.55l-5.85,6.55l-5.85,-6.55zM680.4,15.4l5.85,6.55l-5.85,6.55l-5.85,-6.55zM680.9,15.4l5.85,6.55l-5.85,6.55l-5.85,-6.55zM681.4,15.3l5.85,6.55l-5.85,6.55l-5.85,-6.55zM681.9,15.3l5.85,6.55l-5.85,6.55l-5.85,-6.55zM682.4,15.3l5.85,6.55l-5.85,6.55l-5.85,-6.55zM683.0,15.2l5.85,6.55l-5.85,6.55l-5.85,-6.55zM683.5,15.2l5.85,6.55l-5.85,6.55l-5.85,-6.55zM684.0,15.2l5.85,6.55l-5.85,6.55l-5.85,-6.55zM684.5,15.2l5.85,6.55l-5.85,6.55l-5.85,-6.55zM685.0,15.1l5.85,6.55l-5.85,6.55l-5.85,-6.55zM685.5,15.1l5.85,6.55l-5.85,6.55l-5.85,-6.55zM686.0,15.1l5.85,6.55l-5.85,6.55l-5.85,-6.55zM686.4,15.0l5.85,6.55l-5.85,6.55l-5.85,-6.55zM686.9,15.0l5.85,6.55l-5.85,6.55l-5.85,-6.55zM687.4,15.0l5.85,6.55l-5.85,6.55l-5.85,-6.55zM687.9,14.9l5.85,6.55l-5.85,6.55l-5.85,-6.55zM688.4,14.9l5.85,6.55l-5.85,6.55l-5.85,-6.55zM688.9,14.9l5.85,6.55l-5.85,6.55l-5.85,-6.55zM689.3,14.9l5.85,6.55l-5.85,6.55l-5.85,-6.55zM689.8,14.8l5.85,6.55l-5.85,6.55l-5.85,-6.55zM690.3,14.8l5.85,6.55l-5.85,6.55l-5.85,-6.55zM690.7,14.8l5.85,6.55l-5.85,6.55l-5.85,-6.55zM691.2,14.8l5.85,6.55l-5.85,6.55l-5.85,-6.55zM691.7,14.7l5.85,6.55l-5.85,6.55l-5.85,-6.55zM692.1,14.7l5.85,6.55l-5.85,6.55l-5.85,-6.55zM692.6,14.7l5.85,6.55l-5.85,6.55l-5.85,-6.55zM693.0,14.6l5.85,6.55l-5.85,6.55l-5.85,-6.55zM693.5,14.6l5.85,6.55l-5.85,6.55l-5.85,-6.55zM694.0,14.6l5.85,6.55l-5.85,6.55l-5.85,-6.55zM694.5,14.6l5.85,6.55l-5.85,6.55l-5.85,-6.55zM695.0,14.5l5.85,6.55l-5.85,6.55l-5.85,-6.55zM695.6,14.5l5.85,6.55l-5.85,6.55l-5.85,-6.55zM696.1,14.5l5.85,6.55l-5.85,6.55l-5.85,-6.55zM696.6,14.4l5.85,6.55l-5.85,6.55l-5.85,-6.55zM697.1,14.4l5.85,6.55l-5.85,6.55l-5.85,-6.55zM697.6,14.4l5.85,6.55l-5.85,6.55l-5.85,-6.55zM698.1,14.4l5.85,6.55l-5.85,6.55l-5.85,-6.55zM698.6,14.3l5.85,6.55l-5.85,6.55l-5.85,-6.55zM699.1,14.3l5.85,6.55l-5.85,6.55l-5.85,-6.55zM699.6,14.3l5.85,6.55l-5.85,6.55l-5.85,-6.55zM700.1,14.3l5.85,6.55l-5.85,6.55l-5.85,-6.55zM700.5,14.2l5.85,6.55l-5.85,6.55l-5.85,-6.55zM701.0,14.2l5.85,6.55l-5.85,6.55l-5.85,-6.55zM701.5,14.2l5.85,6.55l-5.85,6.55l-5.85,-6.55zM702.0,14.2l5.85,6.55l-5.85,6.55l-5.85,-6.55zM702.5,14.1l5.85,6.55l-5.85,6.55l-5.85,-6.55zM702.9,14.1l5.85,6.55l-5.85,6.55l-5.85,-6.55zM703.4,14.1l5.85,6.55l-5.85,6.55l-5.85,-6.55zM703.9,14.1l5.85,6.55l-5.85,6.55l-5.85,-6.55zM704.3,14.1l5.85,6.55l-5.85,6.55l-5.85,-6.55zM704.8,14.0l5.85,6.55l-5.85,6.55l-5.85,-6.55zM705.2,14.0l5.85,6.55l-5.85,6.55l-5.85,-6.55zM705.7,14.0l5.85,6.55l-5.85,6.55l-5.85,-6.55zM706.2,14.0l5.85,6.55l-5.85,6.55l-5.85,-6.55zM706.6,14.0l5.85,6.55l-5.85,6.55l-5.85,-6.55zM707.1,13.9l5.85,6.55l-5.85,6.55l-5.85,-6.55zM707.6,13.9l5.85,6.55l-5.85,6.55l-5.85,-6.55zM708.1,13.9l5.85,6.55l-5.85,6.55l-5.85,-6.55zM708.6,13.9l5.85,6.55l-5.85,6.55l-5.85,-6.55zM709.1,13.9l5.85,6.55l-5.85,6.55l-5.85,-6.55zM709.6,13.9l5.85,6.55l-5.85,6.55l-5.85,-6.55zM710.1,13.8l5.85,6.55l-5.85,6.55l-5.85,-6.55zM710.6,13.8l5.85,6.55l-5.85,6.55l-5.85,-6.55zM711.1,13.8l5.85,6.55l-5.85,6.55l-5.85,-6.55zM711.6,13.8l5.85,6.55l-5.85,6.55l-5.85,-6.55zM712.0,13.8l5.85,6.55l-5.85,6.55l-5.85,-6.55zM712.5,13.8l5.85,6.55l-5.85,6.55l-5.85,-6.55zM713.0,13.7l5.85,6.55l-5.85,6.55l-5.85,-6.55zM713.5,13.7l5.85,6.55l-5.85,6.55l-5.85,-6.55zM714.0,13.7l5.85,6.55l-5.85,6.55l-5.85,-6.55zM714.4,13.7l5.85,6.55l-5.85,6.55l-5.85,-6.55zM714.9,13.7l5.85,6.55l-5.85,6.55l-5.85,-6.55zM715.4,13.7l5.85,6.55l-5.85,6.55l-5.85,-6.55zM715.8,13.7l5.85,6.55l-5.85,6.55l-5.85,-6.55zM716.3,13.6l5.85,6.55l-5.85,6.55l-5.85,-6.55zM716.8,13.6l5.85,6.55l-5.85,6.55l-5.85,-6.55zM717.2,13.6l5.85,6.55l-5.85,6.55l-5.85,-6.55zM717.7,13.6l5.85,6.55l-5.85,6.55l-5.85,-6.55zM718.1,13.6l5.85,6.55l-5.85,6.55l-5.85,-6.55zM718.6,13.6l5.85,6.55l-5.85,6.55l-5.85,-6.55zM719.1,13.6l5.85,6.55l-5.85,6.55l-5.85,-6.55zM719.6,13.5l5.85,6.55l-5.85,6.55l-5.85,-6.55zM720.1,13.5l5.85,6.55l-5.85,6.55l-5.85,-6.55zM720.6,13.5l5.85,6.55l-5.85,6.55l-5.85,-6.55zM721.1,13.5l5.85,6.55l-5.85,6.55l-5.85,-6.55zM721.6,13.5l5.85,6.55l-5.85,6.55l-5.85,-6.55zM722.0,13.5l5.85,6.55l-5.85,6.55l-5.85,-6.55zM722.5,13.5l5.85,6.55l-5.85,6.55l-5.85,-6.55zM723.0,13.4l5.85,6.55l-5.85,6.55l-5.85,-6.55zM723.5,13.4l5.85,6.55l-5.85,6.55l-5.85,-6.55zM724.0,13.4l5.85,6.55l-5.85,6.55l-5.85,-6.55zM724.4,13.4l5.85,6.55l-5.85,6.55l-5.85,-6.55zM724.9,13.4l5.85,6.55l-5.85,6.55l-5.85,-6.55zM728.3,13.3l5.85,6.55l-5.85,6.55l-5.85,-6.55zM728.7,13.3l5.85,6.55l-5.85,6.55l-5.85,-6.55zM729.2,13.3l5.85,6.55l-5.85,6.55l-5.85,-6.55zM729.7,13.3l5.85,6.55l-5.85,6.55l-5.85,-6.55zM730.2,13.3l5.85,6.55l-5.85,6.55l-5.85,-6.55zM730.7,13.2l5.85,6.55l-5.85,6.55l-5.85,-6.55zM731.2,13.2l5.85,6.55l-5.85,6.55l-5.85,-6.55zM731.7,13.2l5.85,6.55l-5.85,6.55l-5.85,-6.55zM732.1,13.2l5.85,6.55l-5.85,6.55l-5.85,-6.55zM732.6,13.2l5.85,6.55l-5.85,6.55l-5.85,-6.55zM733.1,13.2l5.85,6.55l-5.85,6.55l-5.85,-6.55zM733.6,13.2l5.85,6.55l-5.85,6.55l-5.85,-6.55zM734.0,13.2l5.85,6.55l-5.85,6.55l-5.85,-6.55zM734.5,13.2l5.85,6.55l-5.85,6.55l-5.85,-6.55zM735.0,13.2l5.85,6.55l-5.85,6.55l-5.85,-6.55zM735.4,13.2l5.85,6.55l-5.85,6.55l-5.85,-6.55zM735.9,13.2l5.85,6.55l-5.85,6.55l-5.85,-6.55zM736.4,13.1l5.85,6.55l-5.85,6.55l-5.85,-6.55zM736.8,13.1l5.85,6.55l-5.85,6.55l-5.85,-6.55zM737.3,13.1l5.85,6.55l-5.85,6.55l-5.85,-6.55zM737.7,13.1l5.85,6.55l-5.85,6.55l-5.85,-6.55zM738.2,13.1l5.85,6.55l-5.85,6.55l-5.85,-6.55zM738.7,13.1l5.85,6.55l-5.85,6.55l-5.85,-6.55zM739.2,13.1l5.85,6.55l-5.85,6.55l-5.85,-6.55zM739.7,13.1l5.85,6.55l-5.85,6.55l-5.85,-6.55zM740.2,13.1l5.85,6.55l-5.85,6.55l-5.85,-6.55zM740.6,13.1l5.85,6.55l-5.85,6.55l-5.85,-6.55zM741.1,13.1l5.85,6.55l-5.85,6.55l-5.85,-6.55z" fill="#ff0000"/>
<path d="M85.2,164.1 L145.0,131.0 L180.0,112.9 L204.8,100.4 L224.0,91.0 L239.7,84.4 L253.0,79.2 L264.6,74.5 L274.7,70.7 L283.8,67.9 L292.0,65.2 L299.5,62.9 L306.4,60.8 L312.8,58.9 L318.8,57.2 L324.3,55.7 L329.6,54.3 L334.5,53.0 L339.2,51.7 L343.6,50.6 L347.8,49.5 L351.8,48.4 L355.6,47.4 L359.3,46.4 L362.8,45.5 L366.2,44.6 L369.5,43.8 L372.6,43.0 L375.6,42.3 L378.6,41.6 L381.4,41.0 L384.1,40.3 L386.8,39.8 L389.4,39.2 L391.9,38.7 L394.3,38.2 L396.6,37.7 L398.9,37.2 L401.2,36.8 L403.4,36.4 L405.5,36.0 L407.6,35.7 L409.6,35.3 L411.6,35.0 L413.5,34.7 L415.4,34.4 L417.3,34.2 L419.1,33.9 L420.9,33.6 L422.6,33.3 L424.3,33.1 L426.0,32.8 L427.6,32.5 L429.3,32.3 L430.8,32.0 L432.4,31.8 L433.9,31.5 L435.4,31.3 L436.9,31.1 L438.3,30.8 L439.8,30.6 L441.2,30.4 L442.5,30.2 L443.9,30.0 L445.2,29.8 L446.6,29.6 L447.9,29.4 L449.1,29.2 L450.4,29.0 L451.6,28.8 L452.9,28.7 L454.1,28.5 L455.3,28.3 L456.4,28.2 L457.6,28.0 L458.7,27.8 L459.9,27.7 L461.0,27.5 L462.1,27.4 L463.2,27.2 L464.2,27.1 L465.3,26.9 L466.3,26.8 L467.4,26.7 L468.4,26.5 L469.4,26.4 L470.4,26.3 L471.4,26.1 L472.3,26.0 L473.3,25.9 L474.3,25.8 L475.2,25.7 L476.1,25.6 L477.1,25.5 L478.0,25.4 L478.9,25.3 L479.8,25.2 L480.7,25.1 L481.5,25.0 L482.4,24.9 L483.3,24.9 L484.1,24.8 L484.9,24.7 L485.8,24.6 L486.6,24.5 L487.4,24.5 L488.2,24.4 L489.0,24.3 L489.8,24.3 L490.6,24.2 L491.4,24.1 L492.2,24.1 L492.9,24.0 L493.7,23.9 L494.5,23.9 L495.2,23.8 L495.9,23.8 L496.7,23.7 L497.4,23.6 L498.1,23.6 L498.8,23.5 L499.6,23.5 L500.3,23.4 L501.0,23.4 L501.6,23.3 L502.3,23.3 L503.0,23.2 L503.7,23.2 L504.4,23.1 L505.0,23.1 L505.7,23.0 L506.3,23.0 L507.0,23.0 L507.6,22.9 L508.3,22.9 L508.9,22.8 L509.6,22.8 L510.2,22.8 L510.8,22.7 L511.4,22.7 L512.0,22.6 L512.6,22.6 L513.2,22.6 L513.9,22.5 L514.4,22.5 L515.0,22.5 L515.6,22.4 L516.2,22.4 L516.8,22.4 L517.4,22.3 L517.9,22.3 L518.5,22.3 L519.1,22.3 L519.6,22.2 L520.2,22.2 L520.8,22.2 L521.3,22.2 L521.9,22.1 L522.4,22.1 L522.9,22.1 L523.5,22.1 L524.0,22.0 L524.5,22.0 L525.1,22.0 L525.6,22.0 L526.1,22.0 L526.6,21.9 L527.1,21.9 L527.7,21.9 L528.2,21.9 L528.7,21.8 L529.2,21.8 L529.7,21.8 L530.2,21.8 L530.7,21.8 L531.2,21.7 L531.6,21.7 L532.1,21.7 L532.6,21.7 L533.1,21.7 L533.6,21.7 L534.1,21.6 L534.5,21.6 L535.0,21.6 L535.5,21.6 L535.9,21.6 L536.4,21.6 L536.8,21.5 L537.3,21.5 L537.8,21.5 L538.2,21.5 L538.7,21.5 L539.1,21.5 L539.6,21.4 L540.0,21.4 L540.4,21.4 L540.9,21.4 L541.3,21.4 L541.8,21.4 L542.6,21.3 L543.5,21.3 L544.3,21.3 L545.2,21.3 L546.0,21.2 L546.8,21.2 L547.6,21.2 L548.4,21.2 L549.2,21.1 L550.0,21.1 L550.8,21.1 L551.6,21.1 L552.3,21.0 L553.1,21.0 L553.9,21.0 L554.6,21.0 L555.4,21.0 L556.1,20.9 L556.8,20.9 L557.5,20.9 L558.3,20.9 L559.0,20.8 L559.7,20.8 L560.4,20.8 L561.1,20.8 L561.8,20.8 L562.5,20.8 L563.1,20.7 L563.8,20.7 L564.5,20.7 L565.1,20.7 L565.8,20.7 L566.5,20.6 L567.1,20.6 L567.7,20.6 L568.4,20.6 L569.0,20.6 L569.7,20.6 L570.3,20.5 L570.9,20.5 L571.5,20.5 L572.1,20.5 L572.7,20.5 L573.3,20.5 L573.9,20.5 L574.5,20.4 L575.1,20.4 L575.7,20.4 L576.3,20.4 L576.9,20.4 L577.4,20.4 L578.0,20.4 L578.6,20.3 L579.1,20.3 L579.7,20.3 L580.3,20.3 L580.8,20.3 L581.4,20.3 L581.9,20.3 L582.5,20.2 L583.0,20.2 L583.5,20.2 L584.1,20.2 L584.6,20.2 L585.1,20.2 L585.6,20.2 L586.2,20.2 L586.7,20.2 L587.2,20.1 L587.7,20.1 L588.2,20.1 L588.7,20.1 L589.2,20.1 L589.7,20.1 L590.2,20.1 L590.7,20.1 L591.2,20.1 L591.7,20.0 L592.2,20.0 L592.6,20.0 L593.1,20.0 L593.6,20.0 L594.1,20.0 L594.5,20.0 L595.0,20.0 L595.5,20.0 L595.9,20.0 L596.4,19.9 L596.9,19.9 L597.3,19.9 L597.8,19.9 L598.2,19.9 L598.9,19.9 L599.6,19.9 L600.2,19.9 L600.9,19.9 L601.5,19.9 L602.2,19.8 L602.8,19.8 L603.5,19.8 L604.1,19.8 L604.7,19.8 L605.4,19.8 L606.0,19.8 L606.6,19.8 L607.2,19.8 L607.8,19.7 L608.4,19.7 L609.0,19.7 L609.6,19.7 L610.2,19.7 L610.8,19.7 L611.4,19.7 L611.9,19.7 L612.5,19.7 L613.1,19.6 L613.6,19.6 L614.2,19.6 L614.8,19.6 L615.3,19.6 L615.9,19.6 L616.4,19.6 L617.0,19.6 L617.5,19.6 L618.1,19.6 L618.6,19.5 L619.1,19.5 L619.6,19.5 L620.2,19.5 L620.7,19.5 L621.2,19.5 L621.7,19.5 L622.2,19.5 L622.8,19.5 L623.3,19.5 L623.8,19.4 L624.3,19.4 L624.8,19.4 L625.3,19.4 L625.8,19.4 L626.2,19.4 L626.7,19.4 L627.2,19.4 L627.7,19.4 L628.2,19.4 L628.6,19.4 L629.1,19.4 L629.6,19.3 L630.1,19.3 L630.5,19.3 L631.0,19.3 L631.5,19.3 L631.9,19.3 L632.4,19.3 L632.8,19.3 L633.3,19.3 L633.9,19.3 L634.5,19.3 L635.1,19.3 L635.6,19.3 L636.2,19.2 L636.8,19.2 L637.4,19.2 L637.9,19.2 L638.5,19.2 L639.1,19.2 L639.6,19.2 L640.2,19.2 L640.7,19.2 L641.3,19.2 L641.8,19.2 L642.4,19.2 L642.9,19.2 L643.4,19.1 L644.0,19.1 L644.5,19.1 L645.0,19.1 L645.6,19.1 L646.1,19.1 L646.6,19.1 L647.1,19.1 L647.6,19.1 L648.1,19.1 L648.6,19.1 L649.1,19.1 L649.6,19.1 L650.1,19.1 L650.6,19.1 L651.1,19.1 L651.6,19.1 L652.1,19.1 L652.5,19.1 L653.0,19.1 L653.5,19.0 L654.0,19.0 L654.4,19.0 L654.9,19.0 L655.4,19.0 L655.8,19.0 L656.3,19.0 L656.8,19.0 L657.2,19.0 L657.7,19.0 L658.1,19.0 L658.7,19.0 L659.2,19.0 L659.8,19.0 L660.3,19.0 L660.9,19.0 L661.4,19.0 L662.0,19.0 L662.5,19.0 L663.0,19.0 L663.6,19.0 L664.1,19.0 L664.6,19.0 L665.1,19.0 L665.7,19.0 L666.2,19.0 L666.7,19.0 L667.2,19.0 L667.7,19.0 L668.2,19.0 L668.7,19.0 L669.2,19.0 L669.7,19.0 L670.2,19.0 L670.7,19.0 L671.1,19.0 L671.6,19.0 L672.1,19.0 L672.6,19.0 L673.1,19.0 L673.5,19.0 L674.0,19.0 L674.5,19.0 L674.9,19.0 L675.4,19.0 L675.8,19.0 L676.3,19.0 L676.8,19.0 L677.2,19.0 L677.7,19.0 L678.3,19.0 L678.8,19.0 L679.3,19.0 L679.9,19.0 L680.4,19.0 L680.9,19.0 L681.4,19.0 L681.9,19.0 L682.5,19.0 L683.0,19.0 L683.5,19.0 L684.0,19.0 L684.5,19.0 L685.0,19.0 L685.5,19.0 L685.9,19.0 L686.4,19.0 L686.9,19.0 L687.4,19.0 L687.9,19.0 L688.4,19.0 L688.8,19.0 L689.3,18.9 L689.8,18.9 L690.2,18.9 L690.7,18.9 L691.2,18.9 L691.6,18.9 L692.1,18.9 L692.5,18.9 L693.0,18.9 L693.5,18.9 L694.0,18.9 L694.5,18.9 L695.1,18.9 L695.6,18.9 L696.1,18.9 L696.6,18.9 L716.4,18.9 L716.8,18.9 L717.3,18.9 L717.7,18.9 L718.2,18.9 L718.7,18.9 L719.2,18.9 L719.7,18.9 L720.2,18.9 L720.7,18.9 L721.2,18.9 L721.7,18.9 L722.2,18.9 L722.7,18.9 L723.1,18.9 L723.6,18.9 L724.1,18.9 L724.6,18.9 L736.6,18.9 L737.0,18.9 L737.5,18.9 L738.0,18.9 L738.5,18.9 L739.0,18.9 L739.5,18.9 L740.0,18.9 L740.4,18.9" fill="none" stroke="#0000ff" stroke-width="1.6" stroke-linejoin="round"/>
<path d="M80.8,159.7h9.8v9.8h-9.8zM140.6,126.6h9.8v9.8h-9.8zM175.6,108.5h9.8v9.8h-9.8zM200.4,96.0h9.8v9.8h-9.8zM219.6,86.6h9.8v9.8h-9.8zM235.3,80.0h9.8v9.8h-9.8zM248.6,74.8h9.8v9.8h-9.8zM260.2,70.1h9.8v9.8h-9.8zM270.3,66.3h9.8v9.8h-9.8zM279.4,63.5h9.8v9.8h-9.8zM287.6,60.8h9.8v9.8h-9.8zM295.1,58.5h9.8v9.8h-9.8zM302.0,56.4h9.8v9.8h-9.8zM308.4,54.5h9.8v9.8h-9.8zM314.4,52.8h9.8v9.8h-9.8zM319.9,51.3h9.8v9.8h-9.8zM325.2,49.9h9.8v9.8h-9.8zM330.1,48.6h9.8v9.8h-9.8zM334.8,47.3h9.8v9.8h-9.8zM339.2,46.2h9.8v9.8h-9.8zM343.4,45.1h9.8v9.8h-9.8zM347.4,44.0h9.8v9.8h-9.8zM351.2,43.0h9.8v9.8h-9.8zM354.9,42.0h9.8v9.8h-9.8zM358.4,41.1h9.8v9.8h-9.8zM361.8,40.2h9.8v9.8h-9.8zM365.1,39.4h9.8v9.8h-9.8zM368.2,38.6h9.8v9.8h-9.8zM371.2,37.9h9.8v9.8h-9.8zM374.2,37.2h9.8v9.8h-9.8zM377.0,36.6h9.8v9.8h-9.8zM379.7,35.9h9.8v9.8h-9.8zM382.4,35.4h9.8v9.8h-9.8zM385.0,34.8h9.8v9.8h-9.8zM387.5,34.3h9.8v9.8h-9.8zM389.9,33.8h9.8v9.8h-9.8zM392.2,33.3h9.8v9.8h-9.8zM394.5,32.8h9.8v9.8h-9.8zM396.8,32.4h9.8v9.8h-9.8zM399.0,32.0h9.8v9.8h-9.8zM401.1,31.6h9.8v9.8h-9.8zM403.2,31.3h9.8v9.8h-9.8zM405.2,30.9h9.8v9.8h-9.8zM407.2,30.6h9.8v9.8h-9.8zM409.1,30.3h9.8v9.8h-9.8zM411.0,30.0h9.8v9.8h-9.8zM412.9,29.8h9.8v9.8h-9.8zM414.7,29.5h9.8v9.8h-9.8zM416.5,29.2h9.8v9.8h-9.8zM418.2,28.9h9.8v9.8h-9.8zM419.9,28.7h9.8v9.8h-9.8zM421.6,28.4h9.8v9.8h-9.8zM423.2,28.1h9.8v9.8h-9.8zM424.9,27.9h9.8v9.8h-9.8zM426.4,27.6h9.8v9.8h-9.8zM428.0,27.4h9.8v9.8h-9.8zM429.5,27.1h9.8v9.8h-9.8zM431.0,26.9h9.8v9.8h-9.8zM432.5,26.7h9.8v9.8h-9.8zM433.9,26.4h9.8v9.8h-9.8zM435.4,26.2h9.8v9.8h-9.8zM436.8,26.0h9.8v9.8h-9.8zM438.1,25.8h9.8v9.8h-9.8zM439.5,25.6h9.8v9.8h-9.8zM440.8,25.4h9.8v9.8h-9.8zM442.2,25.2h9.8v9.8h-9.8zM443.5,25.0h9.8v9.8h-9.8zM444.7,24.8h9.8v9.8h-9.8zM446.0,24.6h9.8v9.8h-9.8zM447.2,24.4h9.8v9.8h-9.8zM448.5,24.3h9.8v9.8h-9.8zM449.7,24.1h9.8v9.8h-9.8zM450.9,23.9h9.8v9.8h-9.8zM452.0,23.8h9.8v9.8h-9.8zM453.2,23.6h9.8v9.8h-9.8zM454.3,23.4h9.8v9.8h-9.8zM455.5,23.3h9.8v9.8h-9.8zM456.6,23.1h9.8v9.8h-9.8zM457.7,23.0h9.8v9.8h-9.8zM458.8,22.8h9.8v9.8h-9.8zM459.8,22.7h9.8v9.8h-9.8zM460.9,22.5h9.8v9.8h-9.8zM461.9,22.4h9.8v9.8h-9.8zM463.0,22.3h9.8v9.8h-9.8zM464.0,22.1h9.8v9.8h-9.8zM465.0,22.0h9.8v9.8h-9.8zM466.0,21.9h9.8v9.8h-9.8zM467.0,21.7h9.8v9.8h-9.8zM467.9,21.6h9.8v9.8h-9.8zM468.9,21.5h9.8v9.8h-9.8zM469.9,21.4h9.8v9.8h-9.8zM470.8,21.3h9.8v9.8h-9.8zM471.7,21.2h9.8v9.8h-9.8zM472.7,21.1h9.8v9.8h-9.8zM473.6,21.0h9.8v9.8h-9.8zM474.5,20.9h9.8v9.8h-9.8zM475.4,20.8h9.8v9.8h-9.8zM476.3,20.7h9.8v9.8h-9.8zM477.1,20.6h9.8v9.8h-9.8zM478.0,20.5h9.8v9.8h-9.8zM478.9,20.5h9.8v9.8h-9.8zM479.7,20.4h9.8v9.8h-9.8zM480.5,20.3h9.8v9.8h-9.8zM481.4,20.2h9.8v9.8h-9.8zM482.2,20.1h9.8v9.8h-9.8zM483.0,20.1h9.8v9.8h-9.8zM483.8,20.0h9.8v9.8h-9.8zM484.6,19.9h9.8v9.8h-9.8zM485.4,19.9h9.8v9.8h-9.8zM486.2,19.8h9.8v9.8h-9.8zM487.0,19.7h9.8v9.8h-9.8zM487.8,19.7h9.8v9.8h-9.8zM488.5,19.6h9.8v9.8h-9.8zM489.3,19.5h9.8v9.8h-9.8zM490.1,19.5h9.8v9.8h-9.8zM490.8,19.4h9.8v9.8h-9.8zM491.5,19.4h9.8v9.8h-9.8zM492.3,19.3h9.8v9.8h-9.8zM493.0,19.2h9.8v9.8h-9.8zM493.7,19.2h9.8v9.8h-9.8zM494.4,19.1h9.8v9.8h-9.8zM495.2,19.1h9.8v9.8h-9.8zM495.9,19.0h9.8v9.8h-9.8zM496.6,19.0h9.8v9.8h-9.8zM497.2,18.9h9.8v9.8h-9.8zM497.9,18.9h9.8v9.8h-9.8zM498.6,18.8h9.8v9.8h-9.8zM499.3,18.8h9.8v9.8h-9.8zM500.0,18.7h9.8v9.8h-9.8zM500.6,18.7h9.8v9.8h-9.8zM501.3,18.6h9.8v9.8h-9.8zM501.9,18.6h9.8v9.8h-9.8zM502.6,18.6h9.8v9.8h-9.8zM503.2,18.5h9.8v9.8h-9.8zM503.9,18.5h9.8v9.8h-9.8zM504.5,18.4h9.8v9.8h-9.8zM505.2,18.4h9.8v9.8h-9.8zM505.8,18.4h9.8v9.8h-9.8zM506.4,18.3h9.8v9.8h-9.8zM507.0,18.3h9.8v9.8h-9.8zM507.6,18.2h9.8v9.8h-9.8zM508.2,18.2h9.8v9.8h-9.8zM508.8,18.2h9.8v9.8h-9.8zM509.5,18.1h9.8v9.8h-9.8zM510.0,18.1h9.8v9.8h-9.8zM510.6,18.1h9.8v9.8h-9.8zM511.2,18.0h9.8v9.8h-9.8zM511.8,18.0h9.8v9.8h-9.8zM512.4,18.0h9.8v9.8h-9.8zM513.0,17.9h9.8v9.8h-9.8zM513.5,17.9h9.8v9.8h-9.8zM514.1,17.9h9.8v9.8h-9.8zM514.7,17.9h9.8v9.8h-9.8zM515.2,17.8h9.8v9.8h-9.8zM515.8,17.8h9.8v9.8h-9.8zM516.4,17.8h9.8v9.8h-9.8zM516.9,17.8h9.8v9.8h-9.8zM517.5,17.7h9.8v9.8h-9.8zM518.0,17.7h9.8v9.8h-9.8zM518.5,17.7h9.8v9.8h-9.8zM519.1,17.7h9.8v9.8h-9.8zM519.6,17.6h9.8v9.8h-9.8zM520.1,17.6h9.8v9.8h-9.8zM520.7,17.6h9.8v9.8h-9.8zM521.2,17.6h9.8v9.8h-9.8zM521.7,17.6h9.8v9.8h-9.8zM522.2,17.5h9.8v9.8h-9.8zM522.7,17.5h9.8v9.8h-9.8zM523.3,17.5h9.8v9.8h-9.8zM523.8,17.5h9.8v9.8h-9.8zM524.3,17.4h9.8v9.8h-9.8zM524.8,17.4h9.8v9.8h-9.8zM525.3,17.4h9.8v9.8h-9.8zM525.8,17.4h9.8v9.8h-9.8zM526.3,17.4h9.8v9.8h-9.8zM526.8,17.3h9.8v9.8h-9.8zM527.2,17.3h9.8v9.8h-9.8zM527.7,17.3h9.8v9.8h-9.8zM528.2,17.3h9.8v9.8h-9.8zM528.7,17.3h9.8v9.8h-9.8zM529.2,17.3h9.8v9.8h-9.8zM529.7,17.2h9.8v9.8h-9.8zM530.1,17.2h9.8v9.8h-9.8zM530.6,17.2h9.8v9.8h-9.8zM531.1,17.2h9.8v9.8h-9.8zM531.5,17.2h9.8v9.8h-9.8zM532.0,17.2h9.8v9.8h-9.8zM532.4,17.1h9.8v9.8h-9.8zM532.9,17.1h9.8v9.8h-9.8zM533.4,17.1h9.8v9.8h-9.8zM533.8,17.1h9.8v9.8h-9.8zM534.3,17.1h9.8v9.8h-9.8zM534.7,17.1h9.8v9.8h-9.8zM535.2,17.0h9.8v9.8h-9.8zM535.6,17.0h9.8v9.8h-9.8zM536.0,17.0h9.8v9.8h-9.8zM536.5,17.0h9.8v9.8h-9.8zM536.9,17.0h9.8v9.8h-9.8zM537.4,17.0h9.8v9.8h-9.8zM538.2,16.9h9.8v9.8h-9.8zM539.1,16.9h9.8v9.8h-9.8zM539.9,16.9h9.8v9.8h-9.8zM540.8,16.9h9.8v9.8h-9.8zM541.6,16.8h9.8v9.8h-9.8zM542.4,16.8h9.8v9.8h-9.8zM543.2,16.8h9.8v9.8h-9.8zM544.0,16.8h9.8v9.8h-9.8zM544.8,16.7h9.8v9.8h-9.8zM545.6,16.7h9.8v9.8h-9.8zM546.4,16.7h9.8v9.8h-9.8zM547.2,16.7h9.8v9.8h-9.8zM547.9,16.6h9.8v9.8h-9.8zM548.7,16.6h9.8v9.8h-9.8zM549.5,16.6h9.8v9.8h-9.8zM550.2,16.6h9.8v9.8h-9.8zM551.0,16.6h9.8v9.8h-9.8zM551.7,16.5h9.8v9.8h-9.8zM552.4,16.5h9.8v9.8h-9.8zM553.1,16.5h9.8v9.8h-9.8zM553.9,16.5h9.8v9.8h-9.8zM554.6,16.4h9.8v9.8h-9.8zM555.3,16.4h9.8v9.8h-9.8zM556.0,16.4h9.8v9.8h-9.8zM556.7,16.4h9.8v9.8h-9.8zM557.4,16.4h9.8v9.8h-9.8zM558.1,16.4h9.8v9.8h-9.8zM558.7,16.3h9.8v9.8h-9.8zM559.4,16.3h9.8v9.8h-9.8zM560.1,16.3h9.8v9.8h-9.8zM560.7,16.3h9.8v9.8h-9.8zM561.4,16.3h9.8v9.8h-9.8zM562.1,16.2h9.8v9.8h-9.8zM562.7,16.2h9.8v9.8h-9.8zM563.3,16.2h9.8v9.8h-9.8zM564.0,16.2h9.8v9.8h-9.8zM564.6,16.2h9.8v9.8h-9.8zM565.3,16.2h9.8v9.8h-9.8zM565.9,16.1h9.8v9.8h-9.8zM566.5,16.1h9.8v9.8h-9.8zM567.1,16.1h9.8v9.8h-9.8zM567.7,16.1h9.8v9.8h-9.8zM568.3,16.1h9.8v9.8h-9.8zM568.9,16.1h9.8v9.8h-9.8zM569.5,16.1h9.8v9.8h-9.8zM570.1,16.0h9.8v9.8h-9.8zM570.7,16.0h9.8v9.8h-9.8zM571.3,16.0h9.8v9.8h-9.8zM571.9,16.0h9.8v9.8h-9.8zM572.5,16.0h9.8v9.8h-9.8zM573.0,16.0h9.8v9.8h-9.8zM573.6,16.0h9.8v9.8h-9.8zM574.2,15.9h9.8v9.8h-9.8zM574.7,15.9h9.8v9.8h-9.8zM575.3,15.9h9.8v9.8h-9.8zM575.9,15.9h9.8v9.8h-9.8zM576.4,15.9h9.8v9.8h-9.8zM577.0,15.9h9.8v9.8h-9.8zM577.5,15.9h9.8v9.8h-9.8zM578.1,15.8h9.8v9.8h-9.8zM578.6,15.8h9.8v9.8h-9.8zM579.1,15.8h9.8v9.8h-9.8zM579.7,15.8h9.8v9.8h-9.8zM580.2,15.8h9.8v9.8h-9.8zM580.7,15.8h9.8v9.8h-9.8zM581.2,15.8h9.8v9.8h-9.8zM581.8,15.8h9.8v9.8h-9.8zM582.3,15.8h9.8v9.8h-9.8zM582.8,15.7h9.8v9.8h-9.8zM583.3,15.7h9.8v9.8h-9.8zM583.8,15.7h9.8v9.8h-9.8zM584.3,15.7h9.8v9.8h-9.8zM584.8,15.7h9.8v9.8h-9.8zM585.3,15.7h9.8v9.8h-9.8zM585.8,15.7h9.8v9.8h-9.8zM586.3,15.7h9.8v9.8h-9.8zM586.8,15.7h9.8v9.8h-9.8zM587.3,15.6h9.8v9.8h-9.8zM587.8,15.6h9.8v9.8h-9.8zM588.2,15.6h9.8v9.8h-9.8zM588.7,15.6h9.8v9.8h-9.8zM589.2,15.6h9.8v9.8h-9.8zM589.7,15.6h9.8v9.8h-9.8zM590.1,15.6h9.8v9.8h-9.8zM590.6,15.6h9.8v9.8h-9.8zM591.1,15.6h9.8v9.8h-9.8zM591.5,15.6h9.8v9.8h-9.8zM592.0,15.5h9.8v9.8h-9.8zM592.5,15.5h9.8v9.8h-9.8zM592.9,15.5h9.8v9.8h-9.8zM593.4,15.5h9.8v9.8h-9.8zM593.8,15.5h9.8v9.8h-9.8zM594.5,15.5h9.8v9.8h-9.8zM595.2,15.5h9.8v9.8h-9.8zM595.8,15.5h9.8v9.8h-9.8zM596.5,15.5h9.8v9.8h-9.8zM597.1,15.5h9.8v9.8h-9.8zM597.8,15.4h9.8v9.8h-9.8zM598.4,15.4h9.8v9.8h-9.8zM599.1,15.4h9.8v9.8h-9.8zM599.7,15.4h9.8v9.8h-9.8zM600.3,15.4h9.8v9.8h-9.8zM601.0,15.4h9.8v9.8h-9.8zM601.6,15.4h9.8v9.8h-9.8zM602.2,15.4h9.8v9.8h-9.8zM602.8,15.4h9.8v9.8h-9.8zM603.4,15.3h9.8v9.8h-9.8zM604.0,15.3h9.8v9.8h-9.8zM604.6,15.3h9.8v9.8h-9.8zM605.2,15.3h9.8v9.8h-9.8zM605.8,15.3h9.8v9.8h-9.8zM606.4,15.3h9.8v9.8h-9.8zM607.0,15.3h9.8v9.8h-9.8zM607.5,15.3h9.8v9.8h-9.8zM608.1,15.3h9.8v9.8h-9.8zM608.7,15.2h9.8v9.8h-9.8zM609.2,15.2h9.8v9.8h-9.8zM609.8,15.2h9.8v9.8h-9.8zM610.4,15.2h9.8v9.8h-9.8zM610.9,15.2h9.8v9.8h-9.8zM611.5,15.2h9.8v9.8h-9.8zM612.0,15.2h9.8v9.8h-9.8zM612.6,15.2h9.8v9.8h-9.8zM613.1,15.2h9.8v9.8h-9.8zM613.7,15.2h9.8v9.8h-9.8zM614.2,15.1h9.8v9.8h-9.8zM614.7,15.1h9.8v9.8h-9.8zM615.2,15.1h9.8v9.8h-9.8zM615.8,15.1h9.8v9.8h-9.8zM616.3,15.1h9.8v9.8h-9.8zM616.8,15.1h9.8v9.8h-9.8zM617.3,15.1h9.8v9.8h-9.8zM617.8,15.1h9.8v9.8h-9.8zM618.4,15.1h9.8v9.8h-9.8zM618.9,15.1h9.8v9.8h-9.8zM619.4,15.0h9.8v9.8h-9.8zM619.9,15.0h9.8v9.8h-9.8zM620.4,15.0h9.8v9.8h-9.8zM620.9,15.0h9.8v9.8h-9.8zM621.4,15.0h9.8v9.8h-9.8zM621.8,15.0h9.8v9.8h-9.8zM622.3,15.0h9.8v9.8h-9.8zM622.8,15.0h9.8v9.8h-9.8zM623.3,15.0h9.8v9.8h-9.8zM623.8,15.0h9.8v9.8h-9.8zM624.2,15.0h9.8v9.8h-9.8zM624.7,15.0h9.8v9.8h-9.8zM625.2,14.9h9.8v9.8h-9.8zM625.7,14.9h9.8v9.8h-9.8zM626.1,14.9h9.8v9.8h-9.8zM626.6,14.9h9.8v9.8h-9.8zM627.1,14.9h9.8v9.8h-9.8zM627.5,14.9h9.8v9.8h-9.8zM628.0,14.9h9.8v9.8h-9.8zM628.4,14.9h9.8v9.8h-9.8zM628.9,14.9h9.8v9.8h-9.8zM629.5,14.9h9.8v9.8h-9.8zM630.1,14.9h9.8v9.8h-9.8zM630.7,14.9h9.8v9.8h-9.8zM631.2,14.9h9.8v9.8h-9.8zM631.8,14.8h9.8v9.8h-9.8zM632.4,14.8h9.8v9.8h-9.8zM633.0,14.8h9.8v9.8h-9.8zM633.5,14.8h9.8v9.8h-9.8zM634.1,14.8h9.8v9.8h-9.8zM634.7,14.8h9.8v9.8h-9.8zM635.2,14.8h9.8v9.8h-9.8zM635.8,14.8h9.8v9.8h-9.8zM636.3,14.8h9.8v9.8h-9.8zM636.9,14.8h9.8v9.8h-9.8zM637.4,14.8h9.8v9.8h-9.8zM638.0,14.8h9.8v9.8h-9.8zM638.5,14.8h9.8v9.8h-9.8zM639.0,14.7h9.8v9.8h-9.8zM639.6,14.7h9.8v9.8h-9.8zM640.1,14.7h9.8v9.8h-9.8zM640.6,14.7h9.8v9.8h-9.8zM641.2,14.7h9.8v9.8h-9.8zM641.7,14.7h9.8v9.8h-9.8zM642.2,14.7h9.8v9.8h-9.8zM642.7,14.7h9.8v9.8h-9.8zM643.2,14.7h9.8v9.8h-9.8zM643.7,14.7h9.8v9.8h-9.8zM644.2,14.7h9.8v9.8h-9.8zM644.7,14.7h9.8v9.8h-9.8zM645.2,14.7h9.8v9.8h-9.8zM645.7,14.7h9.8v9.8h-9.8zM646.2,14.7h9.8v9.8h-9.8zM646.7,14.7h9.8v9.8h-9.8zM647.2,14.7h9.8v9.8h-9.8zM647.7,14.7h9.8v9.8h-9.8zM648.1,14.7h9.8v9.8h-9.8zM648.6,14.7h9.8v9.8h-9.8zM649.1,14.6h9.8v9.8h-9.8zM649.6,14.6h9.8v9.8h-9.8zM650.0,14.6h9.8v9.8h-9.8zM650.5,14.6h9.8v9.8h-9.8zM651.0,14.6h9.8v9.8h-9.8zM651.4,14.6h9.8v9.8h-9.8zM651.9,14.6h9.8v9.8h-9.8zM652.4,14.6h9.8v9.8h-9.8zM652.8,14.6h9.8v9.8h-9.8zM653.3,14.6h9.8v9.8h-9.8zM653.7,14.6h9.8v9.8h-9.8zM654.3,14.6h9.8v9.8h-9.8zM654.8,14.6h9.8v9.8h-9.8zM655.4,14.6h9.8v9.8h-9.8zM655.9,14.6h9.8v9.8h-9.8zM656.5,14.6h9.8v9.8h-9.8zM657.0,14.6h9.8v9.8h-9.8zM657.6,14.6h9.8v9.8h-9.8zM658.1,14.6h9.8v9.8h-9.8zM658.6,14.6h9.8v9.8h-9.8zM659.2,14.6h9.8v9.8h-9.8zM659.7,14.6h9.8v9.8h-9.8zM660.2,14.6h9.8v9.8h-9.8zM660.7,14.6h9.8v9.8h-9.8zM661.3,14.6h9.8v9.8h-9.8zM661.8,14.6h9.8v9.8h-9.8zM662.3,14.6h9.8v9.8h-9.8zM662.8,14.6h9.8v9.8h-9.8zM663.3,14.6h9.8v9.8h-9.8zM663.8,14.6h9.8v9.8h-9.8zM664.3,14.6h9.8v9.8h-9.8zM664.8,14.6h9.8v9.8h-9.8zM665.3,14.6h9.8v9.8h-9.8zM665.8,14.6h9.8v9.8h-9.8zM666.3,14.6h9.8v9.8h-9.8zM666.7,14.6h9.8v9.8h-9.8zM667.2,14.6h9.8v9.8h-9.8zM667.7,14.6h9.8v9.8h-9.8zM668.2,14.6h9.8v9.8h-9.8zM668.7,14.6h9.8v9.8h-9.8zM669.1,14.6h9.8v9.8h-9.8zM669.6,14.6h9.8v9.8h-9.8zM670.1,14.6h9.8v9.8h-9.8zM670.5,14.6h9.8v9.8h-9.8zM671.0,14.6h9.8v9.8h-9.8zM671.4,14.6h9.8v9.8h-9.8zM671.9,14.6h9.8v9.8h-9.8zM672.4,14.6h9.8v9.8h-9.8zM672.8,14.6h9.8v9.8h-9.8zM673.3,14.6h9.8v9.8h-9.8zM673.9,14.6h9.8v9.8h-9.8zM674.4,14.6h9.8v9.8h-9.8zM674.9,14.6h9.8v9.8h-9.8zM675.5,14.6h9.8v9.8h-9.8zM676.0,14.6h9.8v9.8h-9.8zM676.5,14.6h9.8v9.8h-9.8zM677.0,14.6h9.8v9.8h-9.8zM677.5,14.6h9.8v9.8h-9.8zM678.1,14.6h9.8v9.8h-9.8zM678.6,14.6h9.8v9.8h-9.8zM679.1,14.6h9.8v9.8h-9.8zM679.6,14.6h9.8v9.8h-9.8zM680.1,14.6h9.8v9.8h-9.8zM680.6,14.6h9.8v9.8h-9.8zM681.1,14.6h9.8v9.8h-9.8zM681.5,14.6h9.8v9.8h-9.8zM682.0,14.6h9.8v9.8h-9.8zM682.5,14.6h9.8v9.8h-9.8zM683.0,14.6h9.8v9.8h-9.8zM683.5,14.6h9.8v9.8h-9.8zM684.0,14.6h9.8v9.8h-9.8zM684.4,14.6h9.8v9.8h-9.8zM684.9,14.5h9.8v9.8h-9.8zM685.4,14.5h9.8v9.8h-9.8zM685.8,14.5h9.8v9.8h-9.8zM686.3,14.5h9.8v9.8h-9.8zM686.8,14.5h9.8v9.8h-9.8zM687.2,14.5h9.8v9.8h-9.8zM687.7,14.5h9.8v9.8h-9.8zM688.1,14.5h9.8v9.8h-9.8zM688.6,14.5h9.8v9.8h-9.8zM689.1,14.5h9.8v9.8h-9.8zM689.6,14.5h9.8v9.8h-9.8zM690.1,14.5h9.8v9.8h-9.8zM690.7,14.5h9.8v9.8h-9.8zM691.2,14.5h9.8v9.8h-9.8zM691.7,14.5h9.8v9.8h-9.8zM692.2,14.5h9.8v9.8h-9.8zM712.0,14.5h9.8v9.8h-9.8zM712.4,14.5h9.8v9.8h-9.8zM712.9,14.5h9.8v9.8h-9.8zM713.3,14.5h9.8v9.8h-9.8zM713.8,14.5h9.8v9.8h-9.8zM714.3,14.5h9.8v9.8h-9.8zM714.8,14.5h9.8v9.8h-9.8zM715.3,14.5h9.8v9.8h-9.8zM715.8,14.5h9.8v9.8h-9.8zM716.3,14.5h9.8v9.8h-9.8zM716.8,14.5h9.8v9.8h-9.8zM717.3,14.5h9.8v9.8h-9.8zM717.8,14.5h9.8v9.8h-9.8zM718.3,14.5h9.8v9.8h-9.8zM718.7,14.5h9.8v9.8h-9.8zM719.2,14.5h9.8v9.8h-9.8zM719.7,14.5h9.8v9.8h-9.8zM720.2,14.5h9.8v9.8h-9.8zM732.2,14.5h9.8v9.8h-9.8zM732.6,14.5h9.8v9.8h-9.8zM733.1,14.5h9.8v9.8h-9.8zM733.6,14.5h9.8v9.8h-9.8zM734.1,14.5h9.8v9.8h-9.8zM734.6,14.5h9.8v9.8h-9.8zM735.1,14.5h9.8v9.8h-9.8zM735.6,14.5h9.8v9.8h-9.8zM736.0,14.5h9.8v9.8h-9.8z" fill="#0000ff"/>
</g></g>
<path d="M85.2,243.6h8.5M740.8,243.6h-8.5M85.2,231.8h14.5M740.8,231.8h-14.5M85.2,219.9h8.5M740.8,219.9h-8.5M85.2,208.1h14.5M740.8,208.1h-14.5M85.2,196.3h8.5M740.8,196.3h-8.5M85.2,184.4h14.5M740.8,184.4h-14.5M85.2,172.6h8.5M740.8,172.6h-8.5M85.2,160.8h14.5M740.8,160.8h-14.5M85.2,149.0h8.5M740.8,149.0h-8.5M85.2,137.2h14.5M740.8,137.2h-14.5M85.2,125.3h8.5M740.8,125.3h-8.5M85.2,113.5h14.5M740.8,113.5h-14.5M85.2,101.7h8.5M740.8,101.7h-8.5M85.2,89.9h14.5M740.8,89.9h-14.5M85.2,78.0h8.5M740.8,78.0h-8.5M85.2,66.2h14.5M740.8,66.2h-14.5M85.2,54.4h8.5M740.8,54.4h-8.5M85.2,42.6h14.5M740.8,42.6h-14.5M85.2,30.7h8.5M740.8,30.7h-8.5M145.0,255.4v-8.5M145.0,18.9v8.5M180.0,255.4v-8.5M180.0,18.9v8.5M204.8,255.4v-8.5M204.8,18.9v8.5M224.0,255.4v-8.5M224.0,18.9v8.5M239.7,255.4v-8.5M239.7,18.9v8.5M253.0,255.4v-8.5M253.0,18.9v8.5M264.6,255.4v-8.5M264.6,18.9v8.5M274.7,255.4v-8.5M274.7,18.9v8.5M283.8,255.4v-14.5M283.8,18.9v14.5M343.6,255.4v-8.5M343.6,18.9v8.5M378.6,255.4v-8.5M378.6,18.9v8.5M403.4,255.4v-8.5M403.4,18.9v8.5M422.6,255.4v-8.5M422.6,18.9v8.5M438.3,255.4v-8.5M438.3,18.9v8.5M451.6,255.4v-8.5M451.6,18.9v8.5M463.2,255.4v-8.5M463.2,18.9v8.5M473.3,255.4v-8.5M473.3,18.9v8.5M482.4,255.4v-14.5M482.4,18.9v14.5M542.2,255.4v-8.5M542.2,18.9v8.5M577.2,255.4v-8.5M577.2,18.9v8.5M602.0,255.4v-8.5M602.0,18.9v8.5M621.2,255.4v-8.5M621.2,18.9v8.5M636.9,255.4v-8.5M636.9,18.9v8.5M650.2,255.4v-8.5M650.2,18.9v8.5M661.8,255.4v-8.5M661.8,18.9v8.5M671.9,255.4v-8.5M671.9,18.9v8.5M681.0,255.4v-14.5M681.0,18.9v14.5" stroke="#000" stroke-width="1.6" fill="none"/>
<rect x="85.2" y="18.9" width="655.6" height="236.5" fill="none" stroke="#000" stroke-width="1.7"/>
<text x="80.2" y="266.3" text-anchor="end" font-size="25" fill="#4d4d4d" letter-spacing="1.2">0</text>
<text x="80.2" y="241.7" text-anchor="end" font-size="25" fill="#4d4d4d" letter-spacing="1.2">0.1</text>
<text x="80.2" y="218.0" text-anchor="end" font-size="25" fill="#4d4d4d" letter-spacing="1.2">0.2</text>
<text x="80.2" y="194.3" text-anchor="end" font-size="25" fill="#4d4d4d" letter-spacing="1.2">0.3</text>
<text x="80.2" y="170.7" text-anchor="end" font-size="25" fill="#4d4d4d" letter-spacing="1.2">0.4</text>
<text x="80.2" y="147.1" text-anchor="end" font-size="25" fill="#4d4d4d" letter-spacing="1.2">0.5</text>
<text x="80.2" y="123.4" text-anchor="end" font-size="25" fill="#4d4d4d" letter-spacing="1.2">0.6</text>
<text x="80.2" y="99.8" text-anchor="end" font-size="25" fill="#4d4d4d" letter-spacing="1.2">0.7</text>
<text x="80.2" y="76.1" text-anchor="end" font-size="25" fill="#4d4d4d" letter-spacing="1.2">0.8</text>
<text x="80.2" y="52.5" text-anchor="end" font-size="25" fill="#4d4d4d" letter-spacing="1.2">0.9</text>
<text x="81.6" y="28.8" text-anchor="end" font-size="25" fill="#4d4d4d" letter-spacing="1.2">1</text>
<text x="85.7" y="290.8" text-anchor="middle" font-size="25" fill="#4d4d4d" letter-spacing="0.3">1</text>
<text x="284.3" y="290.8" text-anchor="middle" font-size="25" fill="#4d4d4d" letter-spacing="0.3">10</text>
<text x="482.9" y="290.8" text-anchor="middle" font-size="25" fill="#4d4d4d" letter-spacing="0.3">100</text>
<text x="681.5" y="290.8" text-anchor="middle" font-size="25" fill="#4d4d4d" letter-spacing="0.3">1,000</text>
<path d="M565.8,175.7H628.8" stroke="#ff0000" stroke-width="1.6"/>
<path d="M597.6,169.45l5.85,6.55l-5.85,6.55l-5.85,-6.55z" fill="#ff0000"/>
<path d="M565.8,217.7H628.8" stroke="#0000ff" stroke-width="1.6"/>
<rect x="593.0" y="213.1" width="9.8" height="9.8" fill="#0000ff"/>
<text x="644.3" y="187.9" font-size="29" fill="#000" textLength="64.3" lengthAdjust="spacing">Paris</text>
<text x="644.3" y="229.3" font-size="29" fill="#000" textLength="84.8" lengthAdjust="spacing">France</text>
<text x="352.9" y="335.8" font-size="30" fill="#000" textLength="122.3" lengthAdjust="spacing">frequency</text><text x="487.5" y="335.8" font-size="30" fill="#000" font-style="italic" textLength="16.5" lengthAdjust="spacingAndGlyphs">x</text>
<g transform="translate(33.9,211.8) rotate(-90)" font-size="29" fill="#000"><text x="0.2" y="0" font-style="italic" textLength="18.6" lengthAdjust="spacingAndGlyphs">P</text><text x="19.4" y="0">(</text><text x="28.2" y="0" textLength="52" lengthAdjust="spacing">freq</text><text x="80.9" y="0">(</text><text x="91.2" y="0" font-style="italic">i</text><text x="99.3" y="0">)</text><text x="111.2" y="0" font-family="'Liberation Sans',sans-serif" stroke="#000" stroke-width="0.5" font-size="28">≤</text><text x="127.2" y="0" font-style="italic" textLength="17" lengthAdjust="spacingAndGlyphs">x</text><text x="142" y="0">)</text></g>
</svg>
</body></html>
